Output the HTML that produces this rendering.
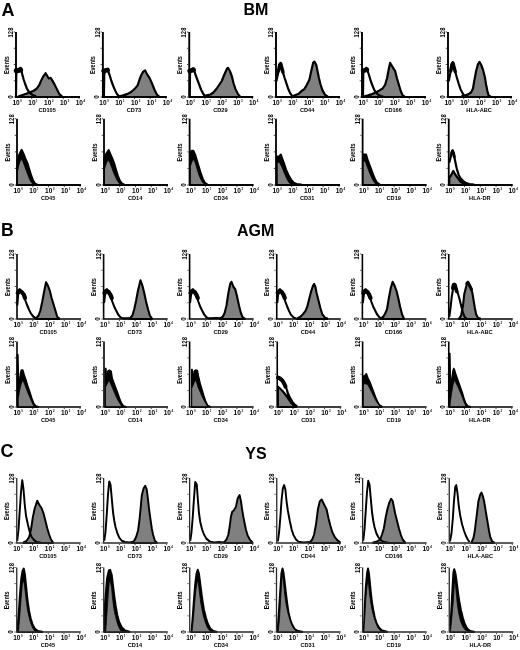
<!DOCTYPE html>
<html><head><meta charset="utf-8"><title>Figure</title>
<style>html,body{margin:0;padding:0;background:#fff;width:520px;height:650px;overflow:hidden}svg{display:block}</style>
</head><body>
<svg width="520" height="650" viewBox="0 0 520 650">
<rect width="520" height="650" fill="#fff"/>
<g>
<text x="1.4" y="16.1" font-size="18" font-family="Liberation Sans, sans-serif" font-weight="bold">A</text>
<text x="256" y="15.3" font-size="16" text-anchor="middle" font-family="Liberation Sans, sans-serif" font-weight="bold">BM</text>
<text x="0.9" y="235.7" font-size="17.6" font-family="Liberation Sans, sans-serif" font-weight="bold">B</text>
<text x="255.6" y="235.6" font-size="16" text-anchor="middle" font-family="Liberation Sans, sans-serif" font-weight="bold">AGM</text>
<text x="0.5" y="457.4" font-size="18" font-family="Liberation Sans, sans-serif" font-weight="bold">C</text>
<text x="256" y="459" font-size="16" text-anchor="middle" font-family="Liberation Sans, sans-serif" font-weight="bold">YS</text>
<g><polygon points="18.75,97 18.75,96.38 22.5,95 26.25,93.75 30,92.25 33.75,90.75 36.88,88.5 39.38,84.75 41.25,80.38 43.12,76.62 45.62,73.25 47.25,76 48.75,78.5 50.62,77.88 52.25,80.38 54.38,84.12 56.88,89.12 59.38,94.12 61.88,96.38 61.88,97" fill="#808080" stroke="#000" stroke-width="2.2" stroke-linejoin="round"/><polyline points="16,96 16.25,74.75 16.88,70.38 18.12,69.75 19.38,69.12 20.62,67.88 21.5,71 22.5,75.38 23.75,79.75 25,83.5 26.88,88.5 28.75,91.62 30.62,93.5 33.12,95.38 36.25,96.38" fill="none" stroke="#000" stroke-width="2.2" stroke-linejoin="round"/><polyline points="16.25,70.75 18.12,70.5 20.62,69.75" fill="none" stroke="#000" stroke-width="5.0" stroke-linejoin="round" stroke-linecap="round"/><path d="M16 32V97H80" fill="none" stroke="#000" stroke-width="1.9"/><path d="M15 32h-1.3 M15 48.25h-1.3 M15 64.5h-1.3 M15 80.75h-1.3 M15 97h-1.3 M31.75 98v1.2 M47.5 98v1.2 M63.25 98v1.2 M79 98v1.2" stroke="#000" stroke-width="0.7" fill="none"/><text transform="translate(13 32.5) rotate(-90)" font-size="6.3" font-weight="bold" text-anchor="middle" textLength="9.8" lengthAdjust="spacingAndGlyphs" font-family="Liberation Sans, sans-serif">128</text><text transform="translate(12.6 97) rotate(-90)" font-size="6.3" font-weight="bold" text-anchor="middle" font-family="Liberation Sans, sans-serif">0</text><text transform="translate(8.6 65.1) rotate(-90)" font-size="6.6" font-weight="bold" text-anchor="middle" textLength="18" lengthAdjust="spacingAndGlyphs" font-family="Liberation Sans, sans-serif">Events</text><text x="16.1" y="104.6" font-size="6.5" font-weight="bold" text-anchor="middle" font-family="Liberation Sans, sans-serif">10</text><text x="20.3" y="101.8" font-size="2.8" font-weight="bold" font-family="Liberation Sans, sans-serif">0</text><text x="31.92" y="104.6" font-size="6.5" font-weight="bold" text-anchor="middle" font-family="Liberation Sans, sans-serif">10</text><text x="36.12" y="101.8" font-size="2.8" font-weight="bold" font-family="Liberation Sans, sans-serif">1</text><text x="47.74" y="104.6" font-size="6.5" font-weight="bold" text-anchor="middle" font-family="Liberation Sans, sans-serif">10</text><text x="51.94" y="101.8" font-size="2.8" font-weight="bold" font-family="Liberation Sans, sans-serif">2</text><text x="63.56" y="104.6" font-size="6.5" font-weight="bold" text-anchor="middle" font-family="Liberation Sans, sans-serif">10</text><text x="67.76" y="101.8" font-size="2.8" font-weight="bold" font-family="Liberation Sans, sans-serif">3</text><text x="79.38" y="104.6" font-size="6.5" font-weight="bold" text-anchor="middle" font-family="Liberation Sans, sans-serif">10</text><text x="83.58" y="101.8" font-size="2.8" font-weight="bold" font-family="Liberation Sans, sans-serif">4</text><text x="47.1" y="111.6" font-size="5.6" font-weight="bold" text-anchor="middle" font-family="Liberation Sans, sans-serif">CD105</text></g>
<g><polygon points="119.5,97 119.5,96.38 123.25,95.38 127,94.12 130.75,92.25 134.5,89.12 137.62,85.38 139.5,79.75 141.38,74.75 143.25,71.62 145.12,70.38 147,74.12 149.5,77.88 152,83.5 154.5,89.75 157,94.75 158.88,96.38 158.88,97" fill="#808080" stroke="#000" stroke-width="2.2" stroke-linejoin="round"/><polyline points="103.88,96 104.25,74.75 105.12,70.38 107,69.12 108,71 109.5,74.75 111.38,81 113.25,86 115.12,90.38 117,94.12 118.88,96 120.75,96.62" fill="none" stroke="#000" stroke-width="2.2" stroke-linejoin="round"/><polyline points="103.75,71 105.5,70.5 107.5,70" fill="none" stroke="#000" stroke-width="4.8" stroke-linejoin="round" stroke-linecap="round"/><path d="M102.88 32V97H166.88" fill="none" stroke="#000" stroke-width="1.9"/><path d="M101.88 32h-1.3 M101.88 48.25h-1.3 M101.88 64.5h-1.3 M101.88 80.75h-1.3 M101.88 97h-1.3 M118.62 98v1.2 M134.38 98v1.2 M150.12 98v1.2 M165.88 98v1.2" stroke="#000" stroke-width="0.7" fill="none"/><text transform="translate(99.88 32.5) rotate(-90)" font-size="6.3" font-weight="bold" text-anchor="middle" textLength="9.8" lengthAdjust="spacingAndGlyphs" font-family="Liberation Sans, sans-serif">128</text><text transform="translate(99.47 97) rotate(-90)" font-size="6.3" font-weight="bold" text-anchor="middle" font-family="Liberation Sans, sans-serif">0</text><text transform="translate(95.47 65.1) rotate(-90)" font-size="6.6" font-weight="bold" text-anchor="middle" textLength="18" lengthAdjust="spacingAndGlyphs" font-family="Liberation Sans, sans-serif">Events</text><text x="102.97" y="104.6" font-size="6.5" font-weight="bold" text-anchor="middle" font-family="Liberation Sans, sans-serif">10</text><text x="107.17" y="101.8" font-size="2.8" font-weight="bold" font-family="Liberation Sans, sans-serif">0</text><text x="118.79" y="104.6" font-size="6.5" font-weight="bold" text-anchor="middle" font-family="Liberation Sans, sans-serif">10</text><text x="122.99" y="101.8" font-size="2.8" font-weight="bold" font-family="Liberation Sans, sans-serif">1</text><text x="134.61" y="104.6" font-size="6.5" font-weight="bold" text-anchor="middle" font-family="Liberation Sans, sans-serif">10</text><text x="138.81" y="101.8" font-size="2.8" font-weight="bold" font-family="Liberation Sans, sans-serif">2</text><text x="150.44" y="104.6" font-size="6.5" font-weight="bold" text-anchor="middle" font-family="Liberation Sans, sans-serif">10</text><text x="154.63" y="101.8" font-size="2.8" font-weight="bold" font-family="Liberation Sans, sans-serif">3</text><text x="166.25" y="104.6" font-size="6.5" font-weight="bold" text-anchor="middle" font-family="Liberation Sans, sans-serif">10</text><text x="170.45" y="101.8" font-size="2.8" font-weight="bold" font-family="Liberation Sans, sans-serif">4</text><text x="133.97" y="111.6" font-size="5.6" font-weight="bold" text-anchor="middle" font-family="Liberation Sans, sans-serif">CD73</text></g>
<g><polygon points="204.25,97 204.25,96.38 206.75,95.38 210.5,94.5 213.62,92.25 216.75,88.5 219.25,84.75 221.75,81 224.25,74.75 226.75,69.12 228,67.88 229.88,71 231.75,76 233.62,83.5 235.5,89.12 238,94.12 239.88,96.38 239.88,97" fill="#808080" stroke="#000" stroke-width="2.2" stroke-linejoin="round"/><polyline points="189.75,96 190,73.5 191.12,69.75 193,68.5 194,69.75 195.5,74.75 197.38,79.75 199.25,84.75 201.12,89.75 203,93.5 204.88,96" fill="none" stroke="#000" stroke-width="2.2" stroke-linejoin="round"/><polyline points="189.75,71 191.5,70.5 193.5,69.75" fill="none" stroke="#000" stroke-width="4.8" stroke-linejoin="round" stroke-linecap="round"/><path d="M189.25 32V97H253.25" fill="none" stroke="#000" stroke-width="1.9"/><path d="M188.25 32h-1.3 M188.25 48.25h-1.3 M188.25 64.5h-1.3 M188.25 80.75h-1.3 M188.25 97h-1.3 M205 98v1.2 M220.75 98v1.2 M236.5 98v1.2 M252.25 98v1.2" stroke="#000" stroke-width="0.7" fill="none"/><text transform="translate(186.25 32.5) rotate(-90)" font-size="6.3" font-weight="bold" text-anchor="middle" textLength="9.8" lengthAdjust="spacingAndGlyphs" font-family="Liberation Sans, sans-serif">128</text><text transform="translate(185.85 97) rotate(-90)" font-size="6.3" font-weight="bold" text-anchor="middle" font-family="Liberation Sans, sans-serif">0</text><text transform="translate(181.85 65.1) rotate(-90)" font-size="6.6" font-weight="bold" text-anchor="middle" textLength="18" lengthAdjust="spacingAndGlyphs" font-family="Liberation Sans, sans-serif">Events</text><text x="189.35" y="104.6" font-size="6.5" font-weight="bold" text-anchor="middle" font-family="Liberation Sans, sans-serif">10</text><text x="193.55" y="101.8" font-size="2.8" font-weight="bold" font-family="Liberation Sans, sans-serif">0</text><text x="205.17" y="104.6" font-size="6.5" font-weight="bold" text-anchor="middle" font-family="Liberation Sans, sans-serif">10</text><text x="209.37" y="101.8" font-size="2.8" font-weight="bold" font-family="Liberation Sans, sans-serif">1</text><text x="220.99" y="104.6" font-size="6.5" font-weight="bold" text-anchor="middle" font-family="Liberation Sans, sans-serif">10</text><text x="225.19" y="101.8" font-size="2.8" font-weight="bold" font-family="Liberation Sans, sans-serif">2</text><text x="236.81" y="104.6" font-size="6.5" font-weight="bold" text-anchor="middle" font-family="Liberation Sans, sans-serif">10</text><text x="241.01" y="101.8" font-size="2.8" font-weight="bold" font-family="Liberation Sans, sans-serif">3</text><text x="252.63" y="104.6" font-size="6.5" font-weight="bold" text-anchor="middle" font-family="Liberation Sans, sans-serif">10</text><text x="256.83" y="101.8" font-size="2.8" font-weight="bold" font-family="Liberation Sans, sans-serif">4</text><text x="220.35" y="111.6" font-size="5.6" font-weight="bold" text-anchor="middle" font-family="Liberation Sans, sans-serif">CD29</text></g>
<g><polygon points="292.5,97 292.5,96.38 295.62,95 298.75,93.75 301.25,91.25 304.38,89.12 306.88,84.75 309.38,79.75 311.25,71 313.12,62.88 314.38,61.62 316.25,64.75 317.5,71 318.75,77.25 320.62,84.75 322.5,90.38 325,94.75 327.5,96.38 327.5,97" fill="#808080" stroke="#000" stroke-width="2.2" stroke-linejoin="round"/><polyline points="276.25,81.38 277.5,76 278.75,69.75 279.75,64.75 280.5,62.88 281.5,66.62 282.75,71.62 284.38,77.25 286.25,82.88 288.12,88.5 290,92.88 291.88,95.62 293.75,96.62" fill="none" stroke="#000" stroke-width="2.2" stroke-linejoin="round"/><polyline points="278.5,71 279.75,64.5 280.75,63.75 282,68.5 283,72.25" fill="none" stroke="#000" stroke-width="3.4" stroke-linejoin="round" stroke-linecap="round"/><path d="M276 32V97H340" fill="none" stroke="#000" stroke-width="1.9"/><path d="M275 32h-1.3 M275 48.25h-1.3 M275 64.5h-1.3 M275 80.75h-1.3 M275 97h-1.3 M291.75 98v1.2 M307.5 98v1.2 M323.25 98v1.2 M339 98v1.2" stroke="#000" stroke-width="0.7" fill="none"/><text transform="translate(273 32.5) rotate(-90)" font-size="6.3" font-weight="bold" text-anchor="middle" textLength="9.8" lengthAdjust="spacingAndGlyphs" font-family="Liberation Sans, sans-serif">128</text><text transform="translate(272.6 97) rotate(-90)" font-size="6.3" font-weight="bold" text-anchor="middle" font-family="Liberation Sans, sans-serif">0</text><text transform="translate(268.6 65.1) rotate(-90)" font-size="6.6" font-weight="bold" text-anchor="middle" textLength="18" lengthAdjust="spacingAndGlyphs" font-family="Liberation Sans, sans-serif">Events</text><text x="276.1" y="104.6" font-size="6.5" font-weight="bold" text-anchor="middle" font-family="Liberation Sans, sans-serif">10</text><text x="280.3" y="101.8" font-size="2.8" font-weight="bold" font-family="Liberation Sans, sans-serif">0</text><text x="291.92" y="104.6" font-size="6.5" font-weight="bold" text-anchor="middle" font-family="Liberation Sans, sans-serif">10</text><text x="296.12" y="101.8" font-size="2.8" font-weight="bold" font-family="Liberation Sans, sans-serif">1</text><text x="307.74" y="104.6" font-size="6.5" font-weight="bold" text-anchor="middle" font-family="Liberation Sans, sans-serif">10</text><text x="311.94" y="101.8" font-size="2.8" font-weight="bold" font-family="Liberation Sans, sans-serif">2</text><text x="323.56" y="104.6" font-size="6.5" font-weight="bold" text-anchor="middle" font-family="Liberation Sans, sans-serif">10</text><text x="327.76" y="101.8" font-size="2.8" font-weight="bold" font-family="Liberation Sans, sans-serif">3</text><text x="339.38" y="104.6" font-size="6.5" font-weight="bold" text-anchor="middle" font-family="Liberation Sans, sans-serif">10</text><text x="343.58" y="101.8" font-size="2.8" font-weight="bold" font-family="Liberation Sans, sans-serif">4</text><text x="307.1" y="111.6" font-size="5.6" font-weight="bold" text-anchor="middle" font-family="Liberation Sans, sans-serif">CD44</text></g>
<g><polygon points="364.5,97 364.5,96.38 368.25,95.38 372,94.12 375.75,92.5 379.5,90.38 382.62,88.5 385.12,84.75 387,78.5 388.88,68.5 390.12,62.88 392,66 393.88,69.12 395.12,71 397,78.5 398.88,84.75 400.75,91 402.62,95.38 404.5,96.38 404.5,97" fill="#808080" stroke="#000" stroke-width="2.2" stroke-linejoin="round"/><polyline points="363,96 363.25,73.5 364.5,69.75 366.38,67.88 367.25,69.75 368.88,74.75 370.75,81 372.62,86 374.5,90.38 376.38,92.88 378.25,94.75 380.75,96 383.25,96.62" fill="none" stroke="#000" stroke-width="2.2" stroke-linejoin="round"/><polyline points="363.25,70.75 365,70.25 366.75,69.75" fill="none" stroke="#000" stroke-width="4.8" stroke-linejoin="round" stroke-linecap="round"/><path d="M362 32V97H426" fill="none" stroke="#000" stroke-width="1.9"/><path d="M361 32h-1.3 M361 48.25h-1.3 M361 64.5h-1.3 M361 80.75h-1.3 M361 97h-1.3 M377.75 98v1.2 M393.5 98v1.2 M409.25 98v1.2 M425 98v1.2" stroke="#000" stroke-width="0.7" fill="none"/><text transform="translate(359 32.5) rotate(-90)" font-size="6.3" font-weight="bold" text-anchor="middle" textLength="9.8" lengthAdjust="spacingAndGlyphs" font-family="Liberation Sans, sans-serif">128</text><text transform="translate(358.6 97) rotate(-90)" font-size="6.3" font-weight="bold" text-anchor="middle" font-family="Liberation Sans, sans-serif">0</text><text transform="translate(354.6 65.1) rotate(-90)" font-size="6.6" font-weight="bold" text-anchor="middle" textLength="18" lengthAdjust="spacingAndGlyphs" font-family="Liberation Sans, sans-serif">Events</text><text x="362.1" y="104.6" font-size="6.5" font-weight="bold" text-anchor="middle" font-family="Liberation Sans, sans-serif">10</text><text x="366.3" y="101.8" font-size="2.8" font-weight="bold" font-family="Liberation Sans, sans-serif">0</text><text x="377.92" y="104.6" font-size="6.5" font-weight="bold" text-anchor="middle" font-family="Liberation Sans, sans-serif">10</text><text x="382.12" y="101.8" font-size="2.8" font-weight="bold" font-family="Liberation Sans, sans-serif">1</text><text x="393.74" y="104.6" font-size="6.5" font-weight="bold" text-anchor="middle" font-family="Liberation Sans, sans-serif">10</text><text x="397.94" y="101.8" font-size="2.8" font-weight="bold" font-family="Liberation Sans, sans-serif">2</text><text x="409.56" y="104.6" font-size="6.5" font-weight="bold" text-anchor="middle" font-family="Liberation Sans, sans-serif">10</text><text x="413.76" y="101.8" font-size="2.8" font-weight="bold" font-family="Liberation Sans, sans-serif">3</text><text x="425.38" y="104.6" font-size="6.5" font-weight="bold" text-anchor="middle" font-family="Liberation Sans, sans-serif">10</text><text x="429.58" y="101.8" font-size="2.8" font-weight="bold" font-family="Liberation Sans, sans-serif">4</text><text x="393.1" y="111.6" font-size="5.6" font-weight="bold" text-anchor="middle" font-family="Liberation Sans, sans-serif">CD166</text></g>
<g><polygon points="461.75,97 461.75,96.38 465.5,95.38 468.62,94.12 471.12,92.25 473,88.5 474.25,81 476.12,71 478,64.12 479.5,62 481.12,64.75 483,69.75 484.88,77.25 486.12,84.75 487.38,91 488.62,95.38 490.5,96.38 490.5,97" fill="#808080" stroke="#000" stroke-width="2.2" stroke-linejoin="round"/><polyline points="448.75,81.38 449.88,75.38 451.12,68.5 452,64.12 452.75,62.25 453.75,66.25 455,71 456.75,77.25 458.62,83.5 460.5,89.12 462.38,92.88 464,95.38 466.12,96.62" fill="none" stroke="#000" stroke-width="2.2" stroke-linejoin="round"/><polyline points="450.75,71 452,64.12 453,63.12 454.25,67.88 455.25,71.62" fill="none" stroke="#000" stroke-width="3.4" stroke-linejoin="round" stroke-linecap="round"/><path d="M448 32V97H512" fill="none" stroke="#000" stroke-width="1.9"/><path d="M447 32h-1.3 M447 48.25h-1.3 M447 64.5h-1.3 M447 80.75h-1.3 M447 97h-1.3 M463.75 98v1.2 M479.5 98v1.2 M495.25 98v1.2 M511 98v1.2" stroke="#000" stroke-width="0.7" fill="none"/><text transform="translate(445 32.5) rotate(-90)" font-size="6.3" font-weight="bold" text-anchor="middle" textLength="9.8" lengthAdjust="spacingAndGlyphs" font-family="Liberation Sans, sans-serif">128</text><text transform="translate(444.6 97) rotate(-90)" font-size="6.3" font-weight="bold" text-anchor="middle" font-family="Liberation Sans, sans-serif">0</text><text transform="translate(440.6 65.1) rotate(-90)" font-size="6.6" font-weight="bold" text-anchor="middle" textLength="18" lengthAdjust="spacingAndGlyphs" font-family="Liberation Sans, sans-serif">Events</text><text x="448.1" y="104.6" font-size="6.5" font-weight="bold" text-anchor="middle" font-family="Liberation Sans, sans-serif">10</text><text x="452.3" y="101.8" font-size="2.8" font-weight="bold" font-family="Liberation Sans, sans-serif">0</text><text x="463.92" y="104.6" font-size="6.5" font-weight="bold" text-anchor="middle" font-family="Liberation Sans, sans-serif">10</text><text x="468.12" y="101.8" font-size="2.8" font-weight="bold" font-family="Liberation Sans, sans-serif">1</text><text x="479.74" y="104.6" font-size="6.5" font-weight="bold" text-anchor="middle" font-family="Liberation Sans, sans-serif">10</text><text x="483.94" y="101.8" font-size="2.8" font-weight="bold" font-family="Liberation Sans, sans-serif">2</text><text x="495.56" y="104.6" font-size="6.5" font-weight="bold" text-anchor="middle" font-family="Liberation Sans, sans-serif">10</text><text x="499.76" y="101.8" font-size="2.8" font-weight="bold" font-family="Liberation Sans, sans-serif">3</text><text x="511.38" y="104.6" font-size="6.5" font-weight="bold" text-anchor="middle" font-family="Liberation Sans, sans-serif">10</text><text x="515.58" y="101.8" font-size="2.8" font-weight="bold" font-family="Liberation Sans, sans-serif">4</text><text x="479.1" y="111.6" font-size="5.6" font-weight="bold" text-anchor="middle" font-family="Liberation Sans, sans-serif">HLA-ABC</text></g>
<g><polygon points="17.5,185 17.5,161.5 19.12,155.25 21.62,150 23.5,154 25.38,159 27.25,162.75 29.12,169 31,175.25 32.88,180.25 34.75,183.38 37.25,184.62 37.25,185" fill="#000" stroke="#000" stroke-width="2.2" stroke-linejoin="round"/><polygon points="17.5,185 17.5,171.5 19.12,164 21,159 22.88,161.5 24.75,166.5 26.62,171.5 28.5,176.5 30.38,180.88 32.25,183.38 34.75,184.38 34.75,185" fill="#808080" stroke="#000" stroke-width="0.8" stroke-linejoin="round"/><path d="M17 118.75V185H81" fill="none" stroke="#000" stroke-width="1.8"/><path d="M16 118.75h-1.3 M16 135.31h-1.3 M16 151.88h-1.3 M16 168.44h-1.3 M16 185h-1.3 M32.75 186v1.2 M48.5 186v1.2 M64.25 186v1.2 M80 186v1.2" stroke="#000" stroke-width="0.7" fill="none"/><text transform="translate(14 119.25) rotate(-90)" font-size="6.3" font-weight="bold" text-anchor="middle" textLength="9.8" lengthAdjust="spacingAndGlyphs" font-family="Liberation Sans, sans-serif">128</text><text transform="translate(13.6 185) rotate(-90)" font-size="6.3" font-weight="bold" text-anchor="middle" font-family="Liberation Sans, sans-serif">0</text><text transform="translate(9.6 152.47) rotate(-90)" font-size="6.6" font-weight="bold" text-anchor="middle" textLength="18" lengthAdjust="spacingAndGlyphs" font-family="Liberation Sans, sans-serif">Events</text><text x="17.1" y="192.6" font-size="6.5" font-weight="bold" text-anchor="middle" font-family="Liberation Sans, sans-serif">10</text><text x="21.3" y="189.8" font-size="2.8" font-weight="bold" font-family="Liberation Sans, sans-serif">0</text><text x="32.92" y="192.6" font-size="6.5" font-weight="bold" text-anchor="middle" font-family="Liberation Sans, sans-serif">10</text><text x="37.12" y="189.8" font-size="2.8" font-weight="bold" font-family="Liberation Sans, sans-serif">1</text><text x="48.74" y="192.6" font-size="6.5" font-weight="bold" text-anchor="middle" font-family="Liberation Sans, sans-serif">10</text><text x="52.94" y="189.8" font-size="2.8" font-weight="bold" font-family="Liberation Sans, sans-serif">2</text><text x="64.56" y="192.6" font-size="6.5" font-weight="bold" text-anchor="middle" font-family="Liberation Sans, sans-serif">10</text><text x="68.76" y="189.8" font-size="2.8" font-weight="bold" font-family="Liberation Sans, sans-serif">3</text><text x="80.38" y="192.6" font-size="6.5" font-weight="bold" text-anchor="middle" font-family="Liberation Sans, sans-serif">10</text><text x="84.58" y="189.8" font-size="2.8" font-weight="bold" font-family="Liberation Sans, sans-serif">4</text><text x="48.1" y="199.6" font-size="5.6" font-weight="bold" text-anchor="middle" font-family="Liberation Sans, sans-serif">CD45</text></g>
<g><polygon points="104.5,185 104.5,159 106.12,154 108.62,150.25 110.5,154.62 112.38,159 114.25,164 116.12,170.25 118,176.5 119.88,180.88 121.75,183.38 124.25,184.62 124.25,185" fill="#000" stroke="#000" stroke-width="2.2" stroke-linejoin="round"/><polygon points="104.5,185 104.5,169 106.12,164 108,159.62 109.88,162.75 111.75,167.75 113.62,172.75 115.5,177.12 117.38,180.88 119.25,183.38 121.75,184.38 121.75,185" fill="#808080" stroke="#000" stroke-width="0.8" stroke-linejoin="round"/><path d="M104 118.75V185H168" fill="none" stroke="#000" stroke-width="1.8"/><path d="M103 118.75h-1.3 M103 135.31h-1.3 M103 151.88h-1.3 M103 168.44h-1.3 M103 185h-1.3 M119.75 186v1.2 M135.5 186v1.2 M151.25 186v1.2 M167 186v1.2" stroke="#000" stroke-width="0.7" fill="none"/><text transform="translate(101 119.25) rotate(-90)" font-size="6.3" font-weight="bold" text-anchor="middle" textLength="9.8" lengthAdjust="spacingAndGlyphs" font-family="Liberation Sans, sans-serif">128</text><text transform="translate(100.6 185) rotate(-90)" font-size="6.3" font-weight="bold" text-anchor="middle" font-family="Liberation Sans, sans-serif">0</text><text transform="translate(96.6 152.47) rotate(-90)" font-size="6.6" font-weight="bold" text-anchor="middle" textLength="18" lengthAdjust="spacingAndGlyphs" font-family="Liberation Sans, sans-serif">Events</text><text x="104.1" y="192.6" font-size="6.5" font-weight="bold" text-anchor="middle" font-family="Liberation Sans, sans-serif">10</text><text x="108.3" y="189.8" font-size="2.8" font-weight="bold" font-family="Liberation Sans, sans-serif">0</text><text x="119.92" y="192.6" font-size="6.5" font-weight="bold" text-anchor="middle" font-family="Liberation Sans, sans-serif">10</text><text x="124.12" y="189.8" font-size="2.8" font-weight="bold" font-family="Liberation Sans, sans-serif">1</text><text x="135.74" y="192.6" font-size="6.5" font-weight="bold" text-anchor="middle" font-family="Liberation Sans, sans-serif">10</text><text x="139.94" y="189.8" font-size="2.8" font-weight="bold" font-family="Liberation Sans, sans-serif">2</text><text x="151.56" y="192.6" font-size="6.5" font-weight="bold" text-anchor="middle" font-family="Liberation Sans, sans-serif">10</text><text x="155.76" y="189.8" font-size="2.8" font-weight="bold" font-family="Liberation Sans, sans-serif">3</text><text x="167.38" y="192.6" font-size="6.5" font-weight="bold" text-anchor="middle" font-family="Liberation Sans, sans-serif">10</text><text x="171.58" y="189.8" font-size="2.8" font-weight="bold" font-family="Liberation Sans, sans-serif">4</text><text x="135.1" y="199.6" font-size="5.6" font-weight="bold" text-anchor="middle" font-family="Liberation Sans, sans-serif">CD14</text></g>
<g><polygon points="190,185 190,152.75 191.5,150.88 193.38,150.88 195.25,155.25 197.12,161.5 199,167.75 200.88,174 202.75,179 204.62,182.75 207.12,184.38 207.12,185" fill="#000" stroke="#000" stroke-width="2.2" stroke-linejoin="round"/><polygon points="190.25,185 190.25,166.5 192.12,161.5 193.38,159 195.25,162.75 197.12,169 199,175.25 200.88,179.62 202.75,182.75 205.25,184.38 205.25,185" fill="#808080" stroke="#000" stroke-width="0.8" stroke-linejoin="round"/><path d="M189.62 118.75V185H253.62" fill="none" stroke="#000" stroke-width="1.8"/><path d="M188.62 118.75h-1.3 M188.62 135.31h-1.3 M188.62 151.88h-1.3 M188.62 168.44h-1.3 M188.62 185h-1.3 M205.38 186v1.2 M221.12 186v1.2 M236.88 186v1.2 M252.62 186v1.2" stroke="#000" stroke-width="0.7" fill="none"/><text transform="translate(186.62 119.25) rotate(-90)" font-size="6.3" font-weight="bold" text-anchor="middle" textLength="9.8" lengthAdjust="spacingAndGlyphs" font-family="Liberation Sans, sans-serif">128</text><text transform="translate(186.22 185) rotate(-90)" font-size="6.3" font-weight="bold" text-anchor="middle" font-family="Liberation Sans, sans-serif">0</text><text transform="translate(182.22 152.47) rotate(-90)" font-size="6.6" font-weight="bold" text-anchor="middle" textLength="18" lengthAdjust="spacingAndGlyphs" font-family="Liberation Sans, sans-serif">Events</text><text x="189.72" y="192.6" font-size="6.5" font-weight="bold" text-anchor="middle" font-family="Liberation Sans, sans-serif">10</text><text x="193.92" y="189.8" font-size="2.8" font-weight="bold" font-family="Liberation Sans, sans-serif">0</text><text x="205.54" y="192.6" font-size="6.5" font-weight="bold" text-anchor="middle" font-family="Liberation Sans, sans-serif">10</text><text x="209.74" y="189.8" font-size="2.8" font-weight="bold" font-family="Liberation Sans, sans-serif">1</text><text x="221.36" y="192.6" font-size="6.5" font-weight="bold" text-anchor="middle" font-family="Liberation Sans, sans-serif">10</text><text x="225.56" y="189.8" font-size="2.8" font-weight="bold" font-family="Liberation Sans, sans-serif">2</text><text x="237.19" y="192.6" font-size="6.5" font-weight="bold" text-anchor="middle" font-family="Liberation Sans, sans-serif">10</text><text x="241.38" y="189.8" font-size="2.8" font-weight="bold" font-family="Liberation Sans, sans-serif">3</text><text x="253" y="192.6" font-size="6.5" font-weight="bold" text-anchor="middle" font-family="Liberation Sans, sans-serif">10</text><text x="257.2" y="189.8" font-size="2.8" font-weight="bold" font-family="Liberation Sans, sans-serif">4</text><text x="220.72" y="199.6" font-size="5.6" font-weight="bold" text-anchor="middle" font-family="Liberation Sans, sans-serif">CD34</text></g>
<g><polygon points="277.25,185 277.25,156.5 279.12,157.12 280.75,154.62 282.25,159 284.12,164 286,169.62 288.5,175.25 291,179.62 293.5,182.75 296.62,184 301,184.62 301,185" fill="#000" stroke="#000" stroke-width="2.2" stroke-linejoin="round"/><polygon points="277.25,185 277.25,162.75 279.12,162.12 280.38,164 282.25,167.75 284.12,172.75 286,177.12 287.88,180.88 289.75,183.38 292.25,184.38 292.25,185" fill="#808080" stroke="#000" stroke-width="0.8" stroke-linejoin="round"/><path d="M276 118.75V185H340" fill="none" stroke="#000" stroke-width="1.8"/><path d="M275 118.75h-1.3 M275 135.31h-1.3 M275 151.88h-1.3 M275 168.44h-1.3 M275 185h-1.3 M291.75 186v1.2 M307.5 186v1.2 M323.25 186v1.2 M339 186v1.2" stroke="#000" stroke-width="0.7" fill="none"/><text transform="translate(273 119.25) rotate(-90)" font-size="6.3" font-weight="bold" text-anchor="middle" textLength="9.8" lengthAdjust="spacingAndGlyphs" font-family="Liberation Sans, sans-serif">128</text><text transform="translate(272.6 185) rotate(-90)" font-size="6.3" font-weight="bold" text-anchor="middle" font-family="Liberation Sans, sans-serif">0</text><text transform="translate(268.6 152.47) rotate(-90)" font-size="6.6" font-weight="bold" text-anchor="middle" textLength="18" lengthAdjust="spacingAndGlyphs" font-family="Liberation Sans, sans-serif">Events</text><text x="276.1" y="192.6" font-size="6.5" font-weight="bold" text-anchor="middle" font-family="Liberation Sans, sans-serif">10</text><text x="280.3" y="189.8" font-size="2.8" font-weight="bold" font-family="Liberation Sans, sans-serif">0</text><text x="291.92" y="192.6" font-size="6.5" font-weight="bold" text-anchor="middle" font-family="Liberation Sans, sans-serif">10</text><text x="296.12" y="189.8" font-size="2.8" font-weight="bold" font-family="Liberation Sans, sans-serif">1</text><text x="307.74" y="192.6" font-size="6.5" font-weight="bold" text-anchor="middle" font-family="Liberation Sans, sans-serif">10</text><text x="311.94" y="189.8" font-size="2.8" font-weight="bold" font-family="Liberation Sans, sans-serif">2</text><text x="323.56" y="192.6" font-size="6.5" font-weight="bold" text-anchor="middle" font-family="Liberation Sans, sans-serif">10</text><text x="327.76" y="189.8" font-size="2.8" font-weight="bold" font-family="Liberation Sans, sans-serif">3</text><text x="339.38" y="192.6" font-size="6.5" font-weight="bold" text-anchor="middle" font-family="Liberation Sans, sans-serif">10</text><text x="343.58" y="189.8" font-size="2.8" font-weight="bold" font-family="Liberation Sans, sans-serif">4</text><text x="307.1" y="199.6" font-size="5.6" font-weight="bold" text-anchor="middle" font-family="Liberation Sans, sans-serif">CD31</text></g>
<g><polygon points="363,185 363,154.62 364.5,154.62 366,154.62 367.62,160.25 369.5,165.25 371.38,170.25 373.25,175.25 375.12,179.62 377,182.75 379.5,184.38 379.5,185" fill="#000" stroke="#000" stroke-width="2.2" stroke-linejoin="round"/><polygon points="363,185 363,161.5 364.5,160.88 365.75,162.75 367.62,167.75 369.5,172.75 371.38,177.12 373.25,180.88 375.12,183.38 377,184.38 377,185" fill="#808080" stroke="#000" stroke-width="0.8" stroke-linejoin="round"/><path d="M362.62 118.75V185H426.62" fill="none" stroke="#000" stroke-width="1.8"/><path d="M361.62 118.75h-1.3 M361.62 135.31h-1.3 M361.62 151.88h-1.3 M361.62 168.44h-1.3 M361.62 185h-1.3 M378.38 186v1.2 M394.12 186v1.2 M409.88 186v1.2 M425.62 186v1.2" stroke="#000" stroke-width="0.7" fill="none"/><text transform="translate(359.62 119.25) rotate(-90)" font-size="6.3" font-weight="bold" text-anchor="middle" textLength="9.8" lengthAdjust="spacingAndGlyphs" font-family="Liberation Sans, sans-serif">128</text><text transform="translate(359.23 185) rotate(-90)" font-size="6.3" font-weight="bold" text-anchor="middle" font-family="Liberation Sans, sans-serif">0</text><text transform="translate(355.23 152.47) rotate(-90)" font-size="6.6" font-weight="bold" text-anchor="middle" textLength="18" lengthAdjust="spacingAndGlyphs" font-family="Liberation Sans, sans-serif">Events</text><text x="362.73" y="192.6" font-size="6.5" font-weight="bold" text-anchor="middle" font-family="Liberation Sans, sans-serif">10</text><text x="366.93" y="189.8" font-size="2.8" font-weight="bold" font-family="Liberation Sans, sans-serif">0</text><text x="378.55" y="192.6" font-size="6.5" font-weight="bold" text-anchor="middle" font-family="Liberation Sans, sans-serif">10</text><text x="382.75" y="189.8" font-size="2.8" font-weight="bold" font-family="Liberation Sans, sans-serif">1</text><text x="394.37" y="192.6" font-size="6.5" font-weight="bold" text-anchor="middle" font-family="Liberation Sans, sans-serif">10</text><text x="398.56" y="189.8" font-size="2.8" font-weight="bold" font-family="Liberation Sans, sans-serif">2</text><text x="410.19" y="192.6" font-size="6.5" font-weight="bold" text-anchor="middle" font-family="Liberation Sans, sans-serif">10</text><text x="414.38" y="189.8" font-size="2.8" font-weight="bold" font-family="Liberation Sans, sans-serif">3</text><text x="426" y="192.6" font-size="6.5" font-weight="bold" text-anchor="middle" font-family="Liberation Sans, sans-serif">10</text><text x="430.2" y="189.8" font-size="2.8" font-weight="bold" font-family="Liberation Sans, sans-serif">4</text><text x="393.73" y="199.6" font-size="5.6" font-weight="bold" text-anchor="middle" font-family="Liberation Sans, sans-serif">CD19</text></g>
<g><polygon points="449.25,185 449.25,177.75 451.12,175.25 453.25,170.88 454.88,174 456.75,176.5 458.62,179 460.5,181.5 463,183.38 465.5,184.38 465.5,185" fill="#808080" stroke="#000" stroke-width="2.2" stroke-linejoin="round"/><polyline points="449.25,162.75 450.5,157.75 451.75,152.12 452.62,150.25 453.5,152.75 454.5,157.75 455.75,164 457,169.62 458.62,174.62 460.5,178.38 463,180.88 465.5,182.75 469.25,184 474.25,184.62" fill="none" stroke="#000" stroke-width="2.2" stroke-linejoin="round"/><polyline points="451.75,153 452.62,151.25 453.5,153.38 454.25,156.75" fill="none" stroke="#000" stroke-width="3.0" stroke-linejoin="round" stroke-linecap="round"/><path d="M448.75 118.75V185H512.75" fill="none" stroke="#000" stroke-width="1.8"/><path d="M447.75 118.75h-1.3 M447.75 135.31h-1.3 M447.75 151.88h-1.3 M447.75 168.44h-1.3 M447.75 185h-1.3 M464.5 186v1.2 M480.25 186v1.2 M496 186v1.2 M511.75 186v1.2" stroke="#000" stroke-width="0.7" fill="none"/><text transform="translate(445.75 119.25) rotate(-90)" font-size="6.3" font-weight="bold" text-anchor="middle" textLength="9.8" lengthAdjust="spacingAndGlyphs" font-family="Liberation Sans, sans-serif">128</text><text transform="translate(445.35 185) rotate(-90)" font-size="6.3" font-weight="bold" text-anchor="middle" font-family="Liberation Sans, sans-serif">0</text><text transform="translate(441.35 152.47) rotate(-90)" font-size="6.6" font-weight="bold" text-anchor="middle" textLength="18" lengthAdjust="spacingAndGlyphs" font-family="Liberation Sans, sans-serif">Events</text><text x="448.85" y="192.6" font-size="6.5" font-weight="bold" text-anchor="middle" font-family="Liberation Sans, sans-serif">10</text><text x="453.05" y="189.8" font-size="2.8" font-weight="bold" font-family="Liberation Sans, sans-serif">0</text><text x="464.67" y="192.6" font-size="6.5" font-weight="bold" text-anchor="middle" font-family="Liberation Sans, sans-serif">10</text><text x="468.87" y="189.8" font-size="2.8" font-weight="bold" font-family="Liberation Sans, sans-serif">1</text><text x="480.49" y="192.6" font-size="6.5" font-weight="bold" text-anchor="middle" font-family="Liberation Sans, sans-serif">10</text><text x="484.69" y="189.8" font-size="2.8" font-weight="bold" font-family="Liberation Sans, sans-serif">2</text><text x="496.31" y="192.6" font-size="6.5" font-weight="bold" text-anchor="middle" font-family="Liberation Sans, sans-serif">10</text><text x="500.51" y="189.8" font-size="2.8" font-weight="bold" font-family="Liberation Sans, sans-serif">3</text><text x="512.13" y="192.6" font-size="6.5" font-weight="bold" text-anchor="middle" font-family="Liberation Sans, sans-serif">10</text><text x="516.33" y="189.8" font-size="2.8" font-weight="bold" font-family="Liberation Sans, sans-serif">4</text><text x="479.85" y="199.6" font-size="5.6" font-weight="bold" text-anchor="middle" font-family="Liberation Sans, sans-serif">HLA-DR</text></g>
<g><polygon points="36,319 36,318.38 38.5,315.5 40.38,310.5 42.25,301.75 44.12,291.75 46,282.38 47.88,285.5 49.75,290.5 51.62,298 53.5,304.25 55.38,310.5 57.25,316.75 59.12,318.38 59.12,319" fill="#808080" stroke="#000" stroke-width="2.1" stroke-linejoin="round"/><polyline points="17.25,305.5 18.25,293 19.75,289.25 21.62,291.12 23.5,294.25 25.38,300.5 27.25,305.5 29.12,309.88 31,313.62 33.5,316.75 36,318.38" fill="none" stroke="#000" stroke-width="2.1" stroke-linejoin="round"/><polyline points="17.75,293 19.5,290.75 21.62,292 23.75,294.5 25,298" fill="none" stroke="#000" stroke-width="4.2" stroke-linejoin="round" stroke-linecap="round"/><path d="M17 254V319H81" fill="none" stroke="#000" stroke-width="1.6"/><path d="M16 254h-1.3 M16 270.25h-1.3 M16 286.5h-1.3 M16 302.75h-1.3 M16 319h-1.3 M32.75 320v1.2 M48.5 320v1.2 M64.25 320v1.2 M80 320v1.2" stroke="#000" stroke-width="0.7" fill="none"/><text transform="translate(14 254.5) rotate(-90)" font-size="6.3" font-weight="bold" text-anchor="middle" textLength="9.8" lengthAdjust="spacingAndGlyphs" font-family="Liberation Sans, sans-serif">128</text><text transform="translate(13.6 319) rotate(-90)" font-size="6.3" font-weight="bold" text-anchor="middle" font-family="Liberation Sans, sans-serif">0</text><text transform="translate(9.6 287.1) rotate(-90)" font-size="6.6" font-weight="bold" text-anchor="middle" textLength="18" lengthAdjust="spacingAndGlyphs" font-family="Liberation Sans, sans-serif">Events</text><text x="17.1" y="326.6" font-size="6.5" font-weight="bold" text-anchor="middle" font-family="Liberation Sans, sans-serif">10</text><text x="21.3" y="323.8" font-size="2.8" font-weight="bold" font-family="Liberation Sans, sans-serif">0</text><text x="32.92" y="326.6" font-size="6.5" font-weight="bold" text-anchor="middle" font-family="Liberation Sans, sans-serif">10</text><text x="37.12" y="323.8" font-size="2.8" font-weight="bold" font-family="Liberation Sans, sans-serif">1</text><text x="48.74" y="326.6" font-size="6.5" font-weight="bold" text-anchor="middle" font-family="Liberation Sans, sans-serif">10</text><text x="52.94" y="323.8" font-size="2.8" font-weight="bold" font-family="Liberation Sans, sans-serif">2</text><text x="64.56" y="326.6" font-size="6.5" font-weight="bold" text-anchor="middle" font-family="Liberation Sans, sans-serif">10</text><text x="68.76" y="323.8" font-size="2.8" font-weight="bold" font-family="Liberation Sans, sans-serif">3</text><text x="80.38" y="326.6" font-size="6.5" font-weight="bold" text-anchor="middle" font-family="Liberation Sans, sans-serif">10</text><text x="84.58" y="323.8" font-size="2.8" font-weight="bold" font-family="Liberation Sans, sans-serif">4</text><text x="48.1" y="333.6" font-size="5.6" font-weight="bold" text-anchor="middle" font-family="Liberation Sans, sans-serif">CD105</text></g>
<g><polygon points="129.88,319 129.88,318.38 132.38,315.5 134.25,309.25 136.12,300.5 138,290.5 140.5,280.25 142.38,285.5 144.25,293 146.12,301.75 148,309.25 149.88,315.5 151.75,318.38 151.75,319" fill="#808080" stroke="#000" stroke-width="2.1" stroke-linejoin="round"/><polyline points="104,303 105.25,293 107,289.25 108.62,291.75 110.5,295.5 112.38,301.75 114.25,306.75 116.12,310.5 118,314.25 120.5,317.38 123,318.38 128,318.38 130.5,318" fill="none" stroke="#000" stroke-width="2.1" stroke-linejoin="round"/><polyline points="104.5,293 106.5,290.75 108.62,292 110.5,294.88 111.75,298" fill="none" stroke="#000" stroke-width="4.2" stroke-linejoin="round" stroke-linecap="round"/><path d="M103.62 254V319H167.62" fill="none" stroke="#000" stroke-width="1.6"/><path d="M102.62 254h-1.3 M102.62 270.25h-1.3 M102.62 286.5h-1.3 M102.62 302.75h-1.3 M102.62 319h-1.3 M119.38 320v1.2 M135.12 320v1.2 M150.88 320v1.2 M166.62 320v1.2" stroke="#000" stroke-width="0.7" fill="none"/><text transform="translate(100.62 254.5) rotate(-90)" font-size="6.3" font-weight="bold" text-anchor="middle" textLength="9.8" lengthAdjust="spacingAndGlyphs" font-family="Liberation Sans, sans-serif">128</text><text transform="translate(100.22 319) rotate(-90)" font-size="6.3" font-weight="bold" text-anchor="middle" font-family="Liberation Sans, sans-serif">0</text><text transform="translate(96.22 287.1) rotate(-90)" font-size="6.6" font-weight="bold" text-anchor="middle" textLength="18" lengthAdjust="spacingAndGlyphs" font-family="Liberation Sans, sans-serif">Events</text><text x="103.72" y="326.6" font-size="6.5" font-weight="bold" text-anchor="middle" font-family="Liberation Sans, sans-serif">10</text><text x="107.92" y="323.8" font-size="2.8" font-weight="bold" font-family="Liberation Sans, sans-serif">0</text><text x="119.54" y="326.6" font-size="6.5" font-weight="bold" text-anchor="middle" font-family="Liberation Sans, sans-serif">10</text><text x="123.74" y="323.8" font-size="2.8" font-weight="bold" font-family="Liberation Sans, sans-serif">1</text><text x="135.36" y="326.6" font-size="6.5" font-weight="bold" text-anchor="middle" font-family="Liberation Sans, sans-serif">10</text><text x="139.56" y="323.8" font-size="2.8" font-weight="bold" font-family="Liberation Sans, sans-serif">2</text><text x="151.19" y="326.6" font-size="6.5" font-weight="bold" text-anchor="middle" font-family="Liberation Sans, sans-serif">10</text><text x="155.38" y="323.8" font-size="2.8" font-weight="bold" font-family="Liberation Sans, sans-serif">3</text><text x="167" y="326.6" font-size="6.5" font-weight="bold" text-anchor="middle" font-family="Liberation Sans, sans-serif">10</text><text x="171.2" y="323.8" font-size="2.8" font-weight="bold" font-family="Liberation Sans, sans-serif">4</text><text x="134.72" y="333.6" font-size="5.6" font-weight="bold" text-anchor="middle" font-family="Liberation Sans, sans-serif">CD73</text></g>
<g><polygon points="220.25,319 220.25,318.38 222.75,316.75 224.62,313 226.5,305.5 228.38,293 230.25,283.62 231.5,281.75 233.38,286.75 235.25,289.25 237.12,296.75 239,305.5 240.88,313 242.75,317.38 244.62,318.38 244.62,319" fill="#808080" stroke="#000" stroke-width="2.1" stroke-linejoin="round"/><polyline points="190,303 191.25,293 193,289.25 194.62,291.75 196.5,295.5 198.38,301.75 200.25,306.75 202.12,310.5 204,314.25 206.5,317.38 209,318.38 216.5,318 220.25,318.38" fill="none" stroke="#000" stroke-width="2.1" stroke-linejoin="round"/><polyline points="190.5,293 192.5,290.75 194.62,292 196.5,294.88 197.75,298" fill="none" stroke="#000" stroke-width="4.2" stroke-linejoin="round" stroke-linecap="round"/><path d="M189.62 254V319H253.62" fill="none" stroke="#000" stroke-width="1.6"/><path d="M188.62 254h-1.3 M188.62 270.25h-1.3 M188.62 286.5h-1.3 M188.62 302.75h-1.3 M188.62 319h-1.3 M205.38 320v1.2 M221.12 320v1.2 M236.88 320v1.2 M252.62 320v1.2" stroke="#000" stroke-width="0.7" fill="none"/><text transform="translate(186.62 254.5) rotate(-90)" font-size="6.3" font-weight="bold" text-anchor="middle" textLength="9.8" lengthAdjust="spacingAndGlyphs" font-family="Liberation Sans, sans-serif">128</text><text transform="translate(186.22 319) rotate(-90)" font-size="6.3" font-weight="bold" text-anchor="middle" font-family="Liberation Sans, sans-serif">0</text><text transform="translate(182.22 287.1) rotate(-90)" font-size="6.6" font-weight="bold" text-anchor="middle" textLength="18" lengthAdjust="spacingAndGlyphs" font-family="Liberation Sans, sans-serif">Events</text><text x="189.72" y="326.6" font-size="6.5" font-weight="bold" text-anchor="middle" font-family="Liberation Sans, sans-serif">10</text><text x="193.92" y="323.8" font-size="2.8" font-weight="bold" font-family="Liberation Sans, sans-serif">0</text><text x="205.54" y="326.6" font-size="6.5" font-weight="bold" text-anchor="middle" font-family="Liberation Sans, sans-serif">10</text><text x="209.74" y="323.8" font-size="2.8" font-weight="bold" font-family="Liberation Sans, sans-serif">1</text><text x="221.36" y="326.6" font-size="6.5" font-weight="bold" text-anchor="middle" font-family="Liberation Sans, sans-serif">10</text><text x="225.56" y="323.8" font-size="2.8" font-weight="bold" font-family="Liberation Sans, sans-serif">2</text><text x="237.19" y="326.6" font-size="6.5" font-weight="bold" text-anchor="middle" font-family="Liberation Sans, sans-serif">10</text><text x="241.38" y="323.8" font-size="2.8" font-weight="bold" font-family="Liberation Sans, sans-serif">3</text><text x="253" y="326.6" font-size="6.5" font-weight="bold" text-anchor="middle" font-family="Liberation Sans, sans-serif">10</text><text x="257.2" y="323.8" font-size="2.8" font-weight="bold" font-family="Liberation Sans, sans-serif">4</text><text x="220.72" y="333.6" font-size="5.6" font-weight="bold" text-anchor="middle" font-family="Liberation Sans, sans-serif">CD29</text></g>
<g><polygon points="297.25,319 297.25,318.38 300.38,316.75 302.88,314.25 305.38,311.12 307.25,306.75 309.12,299.25 311,291.75 312.88,286.12 314.12,284 315.38,286.75 316.62,293 318.5,300.5 320.38,308 322.25,314.25 324.75,317.38 327.25,318.38 327.25,319" fill="#808080" stroke="#000" stroke-width="2.1" stroke-linejoin="round"/><polyline points="277.25,303 278.25,293 280,289.25 281.62,291.75 283.5,295.5 285.38,301.75 287.25,306.75 289.12,311.12 291,314.88 293.5,317.38 296,318.38" fill="none" stroke="#000" stroke-width="2.1" stroke-linejoin="round"/><polyline points="277.75,293 279.75,290.75 281.75,292 283.5,294.88 284.75,298" fill="none" stroke="#000" stroke-width="4.2" stroke-linejoin="round" stroke-linecap="round"/><path d="M276.75 254V319H340.75" fill="none" stroke="#000" stroke-width="1.6"/><path d="M275.75 254h-1.3 M275.75 270.25h-1.3 M275.75 286.5h-1.3 M275.75 302.75h-1.3 M275.75 319h-1.3 M292.5 320v1.2 M308.25 320v1.2 M324 320v1.2 M339.75 320v1.2" stroke="#000" stroke-width="0.7" fill="none"/><text transform="translate(273.75 254.5) rotate(-90)" font-size="6.3" font-weight="bold" text-anchor="middle" textLength="9.8" lengthAdjust="spacingAndGlyphs" font-family="Liberation Sans, sans-serif">128</text><text transform="translate(273.35 319) rotate(-90)" font-size="6.3" font-weight="bold" text-anchor="middle" font-family="Liberation Sans, sans-serif">0</text><text transform="translate(269.35 287.1) rotate(-90)" font-size="6.6" font-weight="bold" text-anchor="middle" textLength="18" lengthAdjust="spacingAndGlyphs" font-family="Liberation Sans, sans-serif">Events</text><text x="276.85" y="326.6" font-size="6.5" font-weight="bold" text-anchor="middle" font-family="Liberation Sans, sans-serif">10</text><text x="281.05" y="323.8" font-size="2.8" font-weight="bold" font-family="Liberation Sans, sans-serif">0</text><text x="292.67" y="326.6" font-size="6.5" font-weight="bold" text-anchor="middle" font-family="Liberation Sans, sans-serif">10</text><text x="296.87" y="323.8" font-size="2.8" font-weight="bold" font-family="Liberation Sans, sans-serif">1</text><text x="308.49" y="326.6" font-size="6.5" font-weight="bold" text-anchor="middle" font-family="Liberation Sans, sans-serif">10</text><text x="312.69" y="323.8" font-size="2.8" font-weight="bold" font-family="Liberation Sans, sans-serif">2</text><text x="324.31" y="326.6" font-size="6.5" font-weight="bold" text-anchor="middle" font-family="Liberation Sans, sans-serif">10</text><text x="328.51" y="323.8" font-size="2.8" font-weight="bold" font-family="Liberation Sans, sans-serif">3</text><text x="340.13" y="326.6" font-size="6.5" font-weight="bold" text-anchor="middle" font-family="Liberation Sans, sans-serif">10</text><text x="344.33" y="323.8" font-size="2.8" font-weight="bold" font-family="Liberation Sans, sans-serif">4</text><text x="307.85" y="333.6" font-size="5.6" font-weight="bold" text-anchor="middle" font-family="Liberation Sans, sans-serif">CD44</text></g>
<g><polygon points="380.75,319 380.75,318.38 383.25,316.75 385.12,313.62 387,309.25 388.88,298 390.75,288 392.62,281.75 394.5,285.5 396.38,290.5 398.25,298 400.12,306.75 402,314.25 403.88,318.38 403.88,319" fill="#808080" stroke="#000" stroke-width="2.1" stroke-linejoin="round"/><polyline points="362.75,303 363.88,294.25 365.75,289.25 367.62,291.75 369.5,295.5 371.38,301.75 373.25,306.75 375.12,310.5 377,314.25 379.5,317.38 382,318.38" fill="none" stroke="#000" stroke-width="2.1" stroke-linejoin="round"/><polyline points="363.25,293 365.25,290.75 367.5,292 369.25,294.88 370.5,298" fill="none" stroke="#000" stroke-width="4.2" stroke-linejoin="round" stroke-linecap="round"/><path d="M362.38 254V319H426.38" fill="none" stroke="#000" stroke-width="1.6"/><path d="M361.38 254h-1.3 M361.38 270.25h-1.3 M361.38 286.5h-1.3 M361.38 302.75h-1.3 M361.38 319h-1.3 M378.12 320v1.2 M393.88 320v1.2 M409.62 320v1.2 M425.38 320v1.2" stroke="#000" stroke-width="0.7" fill="none"/><text transform="translate(359.38 254.5) rotate(-90)" font-size="6.3" font-weight="bold" text-anchor="middle" textLength="9.8" lengthAdjust="spacingAndGlyphs" font-family="Liberation Sans, sans-serif">128</text><text transform="translate(358.98 319) rotate(-90)" font-size="6.3" font-weight="bold" text-anchor="middle" font-family="Liberation Sans, sans-serif">0</text><text transform="translate(354.98 287.1) rotate(-90)" font-size="6.6" font-weight="bold" text-anchor="middle" textLength="18" lengthAdjust="spacingAndGlyphs" font-family="Liberation Sans, sans-serif">Events</text><text x="362.48" y="326.6" font-size="6.5" font-weight="bold" text-anchor="middle" font-family="Liberation Sans, sans-serif">10</text><text x="366.68" y="323.8" font-size="2.8" font-weight="bold" font-family="Liberation Sans, sans-serif">0</text><text x="378.3" y="326.6" font-size="6.5" font-weight="bold" text-anchor="middle" font-family="Liberation Sans, sans-serif">10</text><text x="382.5" y="323.8" font-size="2.8" font-weight="bold" font-family="Liberation Sans, sans-serif">1</text><text x="394.12" y="326.6" font-size="6.5" font-weight="bold" text-anchor="middle" font-family="Liberation Sans, sans-serif">10</text><text x="398.31" y="323.8" font-size="2.8" font-weight="bold" font-family="Liberation Sans, sans-serif">2</text><text x="409.94" y="326.6" font-size="6.5" font-weight="bold" text-anchor="middle" font-family="Liberation Sans, sans-serif">10</text><text x="414.13" y="323.8" font-size="2.8" font-weight="bold" font-family="Liberation Sans, sans-serif">3</text><text x="425.75" y="326.6" font-size="6.5" font-weight="bold" text-anchor="middle" font-family="Liberation Sans, sans-serif">10</text><text x="429.95" y="323.8" font-size="2.8" font-weight="bold" font-family="Liberation Sans, sans-serif">4</text><text x="393.48" y="333.6" font-size="5.6" font-weight="bold" text-anchor="middle" font-family="Liberation Sans, sans-serif">CD166</text></g>
<g><polygon points="459.25,319 459.25,318.38 461.12,315.5 463,305.5 464.25,294.25 466.12,286.75 467.75,281.75 469.25,284.25 471.12,288 472.38,293 473.62,300.5 474.88,308 476.12,314.25 478,318 479.88,318.38 479.88,319" fill="#808080" stroke="#000" stroke-width="2.1" stroke-linejoin="round"/><polyline points="449.25,316.75 450.5,308 451.75,296.75 453,289.25 454.25,283.62 455.75,285.5 457.38,291.75 459.25,298 461.12,305.5 463,313 464.88,317.38 466.75,318.38" fill="none" stroke="#000" stroke-width="2.1" stroke-linejoin="round"/><polyline points="452.75,288.25 453.62,284.75 454.88,284.75 455.75,288.25 456.75,291.5" fill="none" stroke="#000" stroke-width="3.6" stroke-linejoin="round" stroke-linecap="round"/><polyline points="466.75,283.62 468,282.38 469.5,285.5 471.5,289.5" fill="none" stroke="#000" stroke-width="3.0" stroke-linejoin="round" stroke-linecap="round"/><path d="M448.75 254V319H512.75" fill="none" stroke="#000" stroke-width="1.6"/><path d="M447.75 254h-1.3 M447.75 270.25h-1.3 M447.75 286.5h-1.3 M447.75 302.75h-1.3 M447.75 319h-1.3 M464.5 320v1.2 M480.25 320v1.2 M496 320v1.2 M511.75 320v1.2" stroke="#000" stroke-width="0.7" fill="none"/><text transform="translate(445.75 254.5) rotate(-90)" font-size="6.3" font-weight="bold" text-anchor="middle" textLength="9.8" lengthAdjust="spacingAndGlyphs" font-family="Liberation Sans, sans-serif">128</text><text transform="translate(445.35 319) rotate(-90)" font-size="6.3" font-weight="bold" text-anchor="middle" font-family="Liberation Sans, sans-serif">0</text><text transform="translate(441.35 287.1) rotate(-90)" font-size="6.6" font-weight="bold" text-anchor="middle" textLength="18" lengthAdjust="spacingAndGlyphs" font-family="Liberation Sans, sans-serif">Events</text><text x="448.85" y="326.6" font-size="6.5" font-weight="bold" text-anchor="middle" font-family="Liberation Sans, sans-serif">10</text><text x="453.05" y="323.8" font-size="2.8" font-weight="bold" font-family="Liberation Sans, sans-serif">0</text><text x="464.67" y="326.6" font-size="6.5" font-weight="bold" text-anchor="middle" font-family="Liberation Sans, sans-serif">10</text><text x="468.87" y="323.8" font-size="2.8" font-weight="bold" font-family="Liberation Sans, sans-serif">1</text><text x="480.49" y="326.6" font-size="6.5" font-weight="bold" text-anchor="middle" font-family="Liberation Sans, sans-serif">10</text><text x="484.69" y="323.8" font-size="2.8" font-weight="bold" font-family="Liberation Sans, sans-serif">2</text><text x="496.31" y="326.6" font-size="6.5" font-weight="bold" text-anchor="middle" font-family="Liberation Sans, sans-serif">10</text><text x="500.51" y="323.8" font-size="2.8" font-weight="bold" font-family="Liberation Sans, sans-serif">3</text><text x="512.13" y="326.6" font-size="6.5" font-weight="bold" text-anchor="middle" font-family="Liberation Sans, sans-serif">10</text><text x="516.33" y="323.8" font-size="2.8" font-weight="bold" font-family="Liberation Sans, sans-serif">4</text><text x="479.85" y="333.6" font-size="5.6" font-weight="bold" text-anchor="middle" font-family="Liberation Sans, sans-serif">HLA-ABC</text></g>
<g><polygon points="17.25,407 17.25,406.62 17.25,354.75 18,354.75 18.75,389.75 19.5,381 20.38,373.5 21.25,370 22.88,370 24.25,374.75 26,379.75 27.88,386 30,392.25 32,398.5 33.88,403.5 36,406 38.5,406.62 38.5,407" fill="#000" stroke="#000" stroke-width="1.3" stroke-linejoin="round"/><polygon points="18.25,407 18.25,406.62 18.25,398.5 19.5,391 21,384.75 22.25,381 23,380.5 24,382.88 25.75,387.25 27.88,392.88 29.75,397.25 31.62,401.62 33.5,405.38 34.75,406.38 34.75,407" fill="#808080" stroke="#000" stroke-width="0.8" stroke-linejoin="round"/><path d="M17 341.5V407H81" fill="none" stroke="#000" stroke-width="1.6"/><path d="M16 341.5h-1.3 M16 357.88h-1.3 M16 374.25h-1.3 M16 390.62h-1.3 M16 407h-1.3 M32.75 408v1.2 M48.5 408v1.2 M64.25 408v1.2 M80 408v1.2" stroke="#000" stroke-width="0.7" fill="none"/><text transform="translate(14 342) rotate(-90)" font-size="6.3" font-weight="bold" text-anchor="middle" textLength="9.8" lengthAdjust="spacingAndGlyphs" font-family="Liberation Sans, sans-serif">128</text><text transform="translate(13.6 407) rotate(-90)" font-size="6.3" font-weight="bold" text-anchor="middle" font-family="Liberation Sans, sans-serif">0</text><text transform="translate(9.6 374.85) rotate(-90)" font-size="6.6" font-weight="bold" text-anchor="middle" textLength="18" lengthAdjust="spacingAndGlyphs" font-family="Liberation Sans, sans-serif">Events</text><text x="17.1" y="414.6" font-size="6.5" font-weight="bold" text-anchor="middle" font-family="Liberation Sans, sans-serif">10</text><text x="21.3" y="411.8" font-size="2.8" font-weight="bold" font-family="Liberation Sans, sans-serif">0</text><text x="32.92" y="414.6" font-size="6.5" font-weight="bold" text-anchor="middle" font-family="Liberation Sans, sans-serif">10</text><text x="37.12" y="411.8" font-size="2.8" font-weight="bold" font-family="Liberation Sans, sans-serif">1</text><text x="48.74" y="414.6" font-size="6.5" font-weight="bold" text-anchor="middle" font-family="Liberation Sans, sans-serif">10</text><text x="52.94" y="411.8" font-size="2.8" font-weight="bold" font-family="Liberation Sans, sans-serif">2</text><text x="64.56" y="414.6" font-size="6.5" font-weight="bold" text-anchor="middle" font-family="Liberation Sans, sans-serif">10</text><text x="68.76" y="411.8" font-size="2.8" font-weight="bold" font-family="Liberation Sans, sans-serif">3</text><text x="80.38" y="414.6" font-size="6.5" font-weight="bold" text-anchor="middle" font-family="Liberation Sans, sans-serif">10</text><text x="84.58" y="411.8" font-size="2.8" font-weight="bold" font-family="Liberation Sans, sans-serif">4</text><text x="48.1" y="421.6" font-size="5.6" font-weight="bold" text-anchor="middle" font-family="Liberation Sans, sans-serif">CD45</text></g>
<g><polygon points="105.25,407 105.25,406.62 105.25,368.5 106,368.5 106.75,384.75 107.75,371 109.25,370 111.25,371.25 112.38,378.5 114.25,383.5 116.12,388.5 118,393.5 119.88,399.12 121.75,403.5 123.62,406 126.12,406.62 126.12,407" fill="#000" stroke="#000" stroke-width="1.3" stroke-linejoin="round"/><polygon points="105.5,407 105.5,406.62 105.5,387.25 106.75,384.75 108.75,380.5 110.25,382.88 112,387 114.25,392.25 116.12,396.62 118,400.38 119.88,403.5 121.75,406.38 121.75,407" fill="#808080" stroke="#000" stroke-width="0.8" stroke-linejoin="round"/><path d="M104 341.5V407H168" fill="none" stroke="#000" stroke-width="1.6"/><path d="M103 341.5h-1.3 M103 357.88h-1.3 M103 374.25h-1.3 M103 390.62h-1.3 M103 407h-1.3 M119.75 408v1.2 M135.5 408v1.2 M151.25 408v1.2 M167 408v1.2" stroke="#000" stroke-width="0.7" fill="none"/><text transform="translate(101 342) rotate(-90)" font-size="6.3" font-weight="bold" text-anchor="middle" textLength="9.8" lengthAdjust="spacingAndGlyphs" font-family="Liberation Sans, sans-serif">128</text><text transform="translate(100.6 407) rotate(-90)" font-size="6.3" font-weight="bold" text-anchor="middle" font-family="Liberation Sans, sans-serif">0</text><text transform="translate(96.6 374.85) rotate(-90)" font-size="6.6" font-weight="bold" text-anchor="middle" textLength="18" lengthAdjust="spacingAndGlyphs" font-family="Liberation Sans, sans-serif">Events</text><text x="104.1" y="414.6" font-size="6.5" font-weight="bold" text-anchor="middle" font-family="Liberation Sans, sans-serif">10</text><text x="108.3" y="411.8" font-size="2.8" font-weight="bold" font-family="Liberation Sans, sans-serif">0</text><text x="119.92" y="414.6" font-size="6.5" font-weight="bold" text-anchor="middle" font-family="Liberation Sans, sans-serif">10</text><text x="124.12" y="411.8" font-size="2.8" font-weight="bold" font-family="Liberation Sans, sans-serif">1</text><text x="135.74" y="414.6" font-size="6.5" font-weight="bold" text-anchor="middle" font-family="Liberation Sans, sans-serif">10</text><text x="139.94" y="411.8" font-size="2.8" font-weight="bold" font-family="Liberation Sans, sans-serif">2</text><text x="151.56" y="414.6" font-size="6.5" font-weight="bold" text-anchor="middle" font-family="Liberation Sans, sans-serif">10</text><text x="155.76" y="411.8" font-size="2.8" font-weight="bold" font-family="Liberation Sans, sans-serif">3</text><text x="167.38" y="414.6" font-size="6.5" font-weight="bold" text-anchor="middle" font-family="Liberation Sans, sans-serif">10</text><text x="171.58" y="411.8" font-size="2.8" font-weight="bold" font-family="Liberation Sans, sans-serif">4</text><text x="135.1" y="421.6" font-size="5.6" font-weight="bold" text-anchor="middle" font-family="Liberation Sans, sans-serif">CD14</text></g>
<g><polygon points="191.62,407 191.62,406.62 191.62,369.5 192.25,369.5 193,384.75 194,371.25 195.5,370 197.5,370.5 198.75,377.25 200.25,383.5 202.12,389.75 204,396 205.88,401.62 207.75,405.38 210.25,406.62 210.25,407" fill="#000" stroke="#000" stroke-width="1.3" stroke-linejoin="round"/><polygon points="191.75,407 191.75,406.62 191.75,388.5 193,385.38 194.62,381.62 195.88,380.5 196.75,382.88 198,387 200.25,392.25 202.12,396.62 204,400.38 205.62,403.25 207.5,406.38 207.5,407" fill="#808080" stroke="#000" stroke-width="0.8" stroke-linejoin="round"/><path d="M189.62 341.5V407H253.62" fill="none" stroke="#000" stroke-width="1.6"/><path d="M188.62 341.5h-1.3 M188.62 357.88h-1.3 M188.62 374.25h-1.3 M188.62 390.62h-1.3 M188.62 407h-1.3 M205.38 408v1.2 M221.12 408v1.2 M236.88 408v1.2 M252.62 408v1.2" stroke="#000" stroke-width="0.7" fill="none"/><text transform="translate(186.62 342) rotate(-90)" font-size="6.3" font-weight="bold" text-anchor="middle" textLength="9.8" lengthAdjust="spacingAndGlyphs" font-family="Liberation Sans, sans-serif">128</text><text transform="translate(186.22 407) rotate(-90)" font-size="6.3" font-weight="bold" text-anchor="middle" font-family="Liberation Sans, sans-serif">0</text><text transform="translate(182.22 374.85) rotate(-90)" font-size="6.6" font-weight="bold" text-anchor="middle" textLength="18" lengthAdjust="spacingAndGlyphs" font-family="Liberation Sans, sans-serif">Events</text><text x="189.72" y="414.6" font-size="6.5" font-weight="bold" text-anchor="middle" font-family="Liberation Sans, sans-serif">10</text><text x="193.92" y="411.8" font-size="2.8" font-weight="bold" font-family="Liberation Sans, sans-serif">0</text><text x="205.54" y="414.6" font-size="6.5" font-weight="bold" text-anchor="middle" font-family="Liberation Sans, sans-serif">10</text><text x="209.74" y="411.8" font-size="2.8" font-weight="bold" font-family="Liberation Sans, sans-serif">1</text><text x="221.36" y="414.6" font-size="6.5" font-weight="bold" text-anchor="middle" font-family="Liberation Sans, sans-serif">10</text><text x="225.56" y="411.8" font-size="2.8" font-weight="bold" font-family="Liberation Sans, sans-serif">2</text><text x="237.19" y="414.6" font-size="6.5" font-weight="bold" text-anchor="middle" font-family="Liberation Sans, sans-serif">10</text><text x="241.38" y="411.8" font-size="2.8" font-weight="bold" font-family="Liberation Sans, sans-serif">3</text><text x="253" y="414.6" font-size="6.5" font-weight="bold" text-anchor="middle" font-family="Liberation Sans, sans-serif">10</text><text x="257.2" y="411.8" font-size="2.8" font-weight="bold" font-family="Liberation Sans, sans-serif">4</text><text x="220.72" y="421.6" font-size="5.6" font-weight="bold" text-anchor="middle" font-family="Liberation Sans, sans-serif">CD34</text></g>
<g><polygon points="277.88,407 277.88,386.62 279.75,388.25 282.25,390.75 284.75,393.75 287.25,397 289.12,400 291,402.75 293.5,405.12 296,406.38 296,407" fill="#808080" stroke="#000" stroke-width="2.1" stroke-linejoin="round"/><polygon points="286,387.25 287.88,392.88 289.75,397.25 292.25,401.62 294.75,404.75 297.25,406.38 297.25,407 296,407 296,406.38 293.5,405.12 291,402.75 289.12,400 287.25,397" fill="#000" stroke="none"/><polyline points="277.5,376.62 279.12,377 281.62,379.12 284.12,382.25 286,387.25 287.88,392.88 289.75,397.25 292.25,401.62 294.75,404.75 297.25,406.38" fill="none" stroke="#000" stroke-width="2.1" stroke-linejoin="round"/><polyline points="278,377.75 279.75,378.38 282.25,380.5 284.25,383.75 285.5,386.62" fill="none" stroke="#000" stroke-width="4.0" stroke-linejoin="round" stroke-linecap="round"/><path d="M277.25 341.5V407H341.25" fill="none" stroke="#000" stroke-width="1.6"/><path d="M276.25 341.5h-1.3 M276.25 357.88h-1.3 M276.25 374.25h-1.3 M276.25 390.62h-1.3 M276.25 407h-1.3 M293 408v1.2 M308.75 408v1.2 M324.5 408v1.2 M340.25 408v1.2" stroke="#000" stroke-width="0.7" fill="none"/><text transform="translate(274.25 342) rotate(-90)" font-size="6.3" font-weight="bold" text-anchor="middle" textLength="9.8" lengthAdjust="spacingAndGlyphs" font-family="Liberation Sans, sans-serif">128</text><text transform="translate(273.85 407) rotate(-90)" font-size="6.3" font-weight="bold" text-anchor="middle" font-family="Liberation Sans, sans-serif">0</text><text transform="translate(269.85 374.85) rotate(-90)" font-size="6.6" font-weight="bold" text-anchor="middle" textLength="18" lengthAdjust="spacingAndGlyphs" font-family="Liberation Sans, sans-serif">Events</text><text x="277.35" y="414.6" font-size="6.5" font-weight="bold" text-anchor="middle" font-family="Liberation Sans, sans-serif">10</text><text x="281.55" y="411.8" font-size="2.8" font-weight="bold" font-family="Liberation Sans, sans-serif">0</text><text x="293.17" y="414.6" font-size="6.5" font-weight="bold" text-anchor="middle" font-family="Liberation Sans, sans-serif">10</text><text x="297.37" y="411.8" font-size="2.8" font-weight="bold" font-family="Liberation Sans, sans-serif">1</text><text x="308.99" y="414.6" font-size="6.5" font-weight="bold" text-anchor="middle" font-family="Liberation Sans, sans-serif">10</text><text x="313.19" y="411.8" font-size="2.8" font-weight="bold" font-family="Liberation Sans, sans-serif">2</text><text x="324.81" y="414.6" font-size="6.5" font-weight="bold" text-anchor="middle" font-family="Liberation Sans, sans-serif">10</text><text x="329.01" y="411.8" font-size="2.8" font-weight="bold" font-family="Liberation Sans, sans-serif">3</text><text x="340.63" y="414.6" font-size="6.5" font-weight="bold" text-anchor="middle" font-family="Liberation Sans, sans-serif">10</text><text x="344.83" y="411.8" font-size="2.8" font-weight="bold" font-family="Liberation Sans, sans-serif">4</text><text x="308.35" y="421.6" font-size="5.6" font-weight="bold" text-anchor="middle" font-family="Liberation Sans, sans-serif">CD31</text></g>
<g><polygon points="363,407 363,376 364.5,376 366.38,373.5 368.25,378.5 370.12,382.25 372,387.25 373.88,392.25 375.75,397.25 377.62,401.62 379.5,404.75 382,406.38 382,407" fill="#000" stroke="#000" stroke-width="1.3" stroke-linejoin="round"/><polygon points="363.25,407 363.25,384.75 365.12,383.5 367.88,384.75 369.75,388.5 371.62,392.25 373.5,396 375.38,399.75 377.25,402.88 379.12,405.38 381,406.38 381,407" fill="#808080" stroke="#000" stroke-width="0.8" stroke-linejoin="round"/><path d="M362.62 341.5V407H426.62" fill="none" stroke="#000" stroke-width="1.6"/><path d="M361.62 341.5h-1.3 M361.62 357.88h-1.3 M361.62 374.25h-1.3 M361.62 390.62h-1.3 M361.62 407h-1.3 M378.38 408v1.2 M394.12 408v1.2 M409.88 408v1.2 M425.62 408v1.2" stroke="#000" stroke-width="0.7" fill="none"/><text transform="translate(359.62 342) rotate(-90)" font-size="6.3" font-weight="bold" text-anchor="middle" textLength="9.8" lengthAdjust="spacingAndGlyphs" font-family="Liberation Sans, sans-serif">128</text><text transform="translate(359.23 407) rotate(-90)" font-size="6.3" font-weight="bold" text-anchor="middle" font-family="Liberation Sans, sans-serif">0</text><text transform="translate(355.23 374.85) rotate(-90)" font-size="6.6" font-weight="bold" text-anchor="middle" textLength="18" lengthAdjust="spacingAndGlyphs" font-family="Liberation Sans, sans-serif">Events</text><text x="362.73" y="414.6" font-size="6.5" font-weight="bold" text-anchor="middle" font-family="Liberation Sans, sans-serif">10</text><text x="366.93" y="411.8" font-size="2.8" font-weight="bold" font-family="Liberation Sans, sans-serif">0</text><text x="378.55" y="414.6" font-size="6.5" font-weight="bold" text-anchor="middle" font-family="Liberation Sans, sans-serif">10</text><text x="382.75" y="411.8" font-size="2.8" font-weight="bold" font-family="Liberation Sans, sans-serif">1</text><text x="394.37" y="414.6" font-size="6.5" font-weight="bold" text-anchor="middle" font-family="Liberation Sans, sans-serif">10</text><text x="398.56" y="411.8" font-size="2.8" font-weight="bold" font-family="Liberation Sans, sans-serif">2</text><text x="410.19" y="414.6" font-size="6.5" font-weight="bold" text-anchor="middle" font-family="Liberation Sans, sans-serif">10</text><text x="414.38" y="411.8" font-size="2.8" font-weight="bold" font-family="Liberation Sans, sans-serif">3</text><text x="426" y="414.6" font-size="6.5" font-weight="bold" text-anchor="middle" font-family="Liberation Sans, sans-serif">10</text><text x="430.2" y="411.8" font-size="2.8" font-weight="bold" font-family="Liberation Sans, sans-serif">4</text><text x="393.73" y="421.6" font-size="5.6" font-weight="bold" text-anchor="middle" font-family="Liberation Sans, sans-serif">CD19</text></g>
<g><polygon points="449.5,407 449.5,406.62 449.5,353.5 450,353.5 450.5,387 451.75,378.5 453,370.38 453.75,368.25 454.75,370.38 455.88,374.12 457.38,378.5 459.25,383.75 460.75,387.88 462.38,392.5 464,397.88 465.75,403.25 468,406 470.5,406.62 470.5,407" fill="#000" stroke="#000" stroke-width="1.3" stroke-linejoin="round"/><polygon points="450,407 450,406.62 450.25,402.25 451.5,393.5 453,384.75 454.25,380.5 455.25,381.62 456.5,384.12 458,387 459.62,391 461.25,394.5 462.75,398.5 464.5,403.25 466.12,406.38 466.12,407" fill="#808080" stroke="#000" stroke-width="0.8" stroke-linejoin="round"/><path d="M448.75 341.5V407H512.75" fill="none" stroke="#000" stroke-width="1.6"/><path d="M447.75 341.5h-1.3 M447.75 357.88h-1.3 M447.75 374.25h-1.3 M447.75 390.62h-1.3 M447.75 407h-1.3 M464.5 408v1.2 M480.25 408v1.2 M496 408v1.2 M511.75 408v1.2" stroke="#000" stroke-width="0.7" fill="none"/><text transform="translate(445.75 342) rotate(-90)" font-size="6.3" font-weight="bold" text-anchor="middle" textLength="9.8" lengthAdjust="spacingAndGlyphs" font-family="Liberation Sans, sans-serif">128</text><text transform="translate(445.35 407) rotate(-90)" font-size="6.3" font-weight="bold" text-anchor="middle" font-family="Liberation Sans, sans-serif">0</text><text transform="translate(441.35 374.85) rotate(-90)" font-size="6.6" font-weight="bold" text-anchor="middle" textLength="18" lengthAdjust="spacingAndGlyphs" font-family="Liberation Sans, sans-serif">Events</text><text x="448.85" y="414.6" font-size="6.5" font-weight="bold" text-anchor="middle" font-family="Liberation Sans, sans-serif">10</text><text x="453.05" y="411.8" font-size="2.8" font-weight="bold" font-family="Liberation Sans, sans-serif">0</text><text x="464.67" y="414.6" font-size="6.5" font-weight="bold" text-anchor="middle" font-family="Liberation Sans, sans-serif">10</text><text x="468.87" y="411.8" font-size="2.8" font-weight="bold" font-family="Liberation Sans, sans-serif">1</text><text x="480.49" y="414.6" font-size="6.5" font-weight="bold" text-anchor="middle" font-family="Liberation Sans, sans-serif">10</text><text x="484.69" y="411.8" font-size="2.8" font-weight="bold" font-family="Liberation Sans, sans-serif">2</text><text x="496.31" y="414.6" font-size="6.5" font-weight="bold" text-anchor="middle" font-family="Liberation Sans, sans-serif">10</text><text x="500.51" y="411.8" font-size="2.8" font-weight="bold" font-family="Liberation Sans, sans-serif">3</text><text x="512.13" y="414.6" font-size="6.5" font-weight="bold" text-anchor="middle" font-family="Liberation Sans, sans-serif">10</text><text x="516.33" y="411.8" font-size="2.8" font-weight="bold" font-family="Liberation Sans, sans-serif">4</text><text x="479.85" y="421.6" font-size="5.6" font-weight="bold" text-anchor="middle" font-family="Liberation Sans, sans-serif">HLA-DR</text></g>
<g><polygon points="23.5,543 23.5,542.38 26.62,540.75 29.12,537 31,529.5 32.88,517 34.75,508.25 37.25,500.75 39.12,504.5 41.62,508.25 43.5,513.25 45.38,520.75 47.25,528.25 49.12,534.5 51,539.5 52.88,542.38 52.88,543" fill="#808080" stroke="#000" stroke-width="1.95" stroke-linejoin="round"/><polyline points="17.25,540.75 18.5,529.5 19.75,510.75 21,492 22.25,480.12 23.5,489.5 24.75,504.5 26,515.75 27.88,524.5 29.75,532 31.62,537 34.12,540.12 36.62,542 41,542.62" fill="none" stroke="#000" stroke-width="1.95" stroke-linejoin="round"/><path d="M16.75 478V543H80.75" fill="none" stroke="#2a2a2a" stroke-width="1.3"/><path d="M15.75 478h-1.3 M15.75 494.25h-1.3 M15.75 510.5h-1.3 M15.75 526.75h-1.3 M15.75 543h-1.3 M32.5 544v1.2 M48.25 544v1.2 M64 544v1.2 M79.75 544v1.2" stroke="#000" stroke-width="0.7" fill="none"/><text transform="translate(13.75 478.5) rotate(-90)" font-size="6.3" font-weight="bold" text-anchor="middle" textLength="9.8" lengthAdjust="spacingAndGlyphs" font-family="Liberation Sans, sans-serif">128</text><text transform="translate(13.35 543) rotate(-90)" font-size="6.3" font-weight="bold" text-anchor="middle" font-family="Liberation Sans, sans-serif">0</text><text transform="translate(9.35 511.1) rotate(-90)" font-size="6.6" font-weight="bold" text-anchor="middle" textLength="18" lengthAdjust="spacingAndGlyphs" font-family="Liberation Sans, sans-serif">Events</text><text x="16.85" y="550.6" font-size="6.5" font-weight="bold" text-anchor="middle" font-family="Liberation Sans, sans-serif">10</text><text x="21.05" y="547.8" font-size="2.8" font-weight="bold" font-family="Liberation Sans, sans-serif">0</text><text x="32.67" y="550.6" font-size="6.5" font-weight="bold" text-anchor="middle" font-family="Liberation Sans, sans-serif">10</text><text x="36.87" y="547.8" font-size="2.8" font-weight="bold" font-family="Liberation Sans, sans-serif">1</text><text x="48.49" y="550.6" font-size="6.5" font-weight="bold" text-anchor="middle" font-family="Liberation Sans, sans-serif">10</text><text x="52.69" y="547.8" font-size="2.8" font-weight="bold" font-family="Liberation Sans, sans-serif">2</text><text x="64.31" y="550.6" font-size="6.5" font-weight="bold" text-anchor="middle" font-family="Liberation Sans, sans-serif">10</text><text x="68.51" y="547.8" font-size="2.8" font-weight="bold" font-family="Liberation Sans, sans-serif">3</text><text x="80.13" y="550.6" font-size="6.5" font-weight="bold" text-anchor="middle" font-family="Liberation Sans, sans-serif">10</text><text x="84.33" y="547.8" font-size="2.8" font-weight="bold" font-family="Liberation Sans, sans-serif">4</text><text x="47.85" y="557.6" font-size="5.6" font-weight="bold" text-anchor="middle" font-family="Liberation Sans, sans-serif">CD105</text></g>
<g><polygon points="131.75,543 131.75,542.38 134.25,540.75 136.12,537 138,530.75 139.25,522 140.5,509.5 141.75,495.75 143.62,488.25 145.25,485.75 146.75,489.5 148,499.5 149.25,510.75 150.5,519.5 151.75,528.25 153,534.5 154.88,540.75 156.75,542.38 156.75,543" fill="#808080" stroke="#000" stroke-width="1.95" stroke-linejoin="round"/><polyline points="104.25,540.75 105.5,532 106.75,514.5 108,494.5 109.25,481.38 110.5,484.5 111.75,498.25 113,512 114.25,520.75 115.5,527 117.38,533.25 119.25,537.62 121.75,540.75 124.88,542 129.25,542.38 133,542" fill="none" stroke="#000" stroke-width="1.95" stroke-linejoin="round"/><path d="M103.62 478V543H167.62" fill="none" stroke="#2a2a2a" stroke-width="1.3"/><path d="M102.62 478h-1.3 M102.62 494.25h-1.3 M102.62 510.5h-1.3 M102.62 526.75h-1.3 M102.62 543h-1.3 M119.38 544v1.2 M135.12 544v1.2 M150.88 544v1.2 M166.62 544v1.2" stroke="#000" stroke-width="0.7" fill="none"/><text transform="translate(100.62 478.5) rotate(-90)" font-size="6.3" font-weight="bold" text-anchor="middle" textLength="9.8" lengthAdjust="spacingAndGlyphs" font-family="Liberation Sans, sans-serif">128</text><text transform="translate(100.22 543) rotate(-90)" font-size="6.3" font-weight="bold" text-anchor="middle" font-family="Liberation Sans, sans-serif">0</text><text transform="translate(96.22 511.1) rotate(-90)" font-size="6.6" font-weight="bold" text-anchor="middle" textLength="18" lengthAdjust="spacingAndGlyphs" font-family="Liberation Sans, sans-serif">Events</text><text x="103.72" y="550.6" font-size="6.5" font-weight="bold" text-anchor="middle" font-family="Liberation Sans, sans-serif">10</text><text x="107.92" y="547.8" font-size="2.8" font-weight="bold" font-family="Liberation Sans, sans-serif">0</text><text x="119.54" y="550.6" font-size="6.5" font-weight="bold" text-anchor="middle" font-family="Liberation Sans, sans-serif">10</text><text x="123.74" y="547.8" font-size="2.8" font-weight="bold" font-family="Liberation Sans, sans-serif">1</text><text x="135.36" y="550.6" font-size="6.5" font-weight="bold" text-anchor="middle" font-family="Liberation Sans, sans-serif">10</text><text x="139.56" y="547.8" font-size="2.8" font-weight="bold" font-family="Liberation Sans, sans-serif">2</text><text x="151.19" y="550.6" font-size="6.5" font-weight="bold" text-anchor="middle" font-family="Liberation Sans, sans-serif">10</text><text x="155.38" y="547.8" font-size="2.8" font-weight="bold" font-family="Liberation Sans, sans-serif">3</text><text x="167" y="550.6" font-size="6.5" font-weight="bold" text-anchor="middle" font-family="Liberation Sans, sans-serif">10</text><text x="171.2" y="547.8" font-size="2.8" font-weight="bold" font-family="Liberation Sans, sans-serif">4</text><text x="134.72" y="557.6" font-size="5.6" font-weight="bold" text-anchor="middle" font-family="Liberation Sans, sans-serif">CD73</text></g>
<g><polygon points="224,543 224,542.38 226.5,539.5 228.38,534.5 229.62,527 230.88,517 232.12,512 234,510.12 235.88,507 237.75,498.25 239.62,495.12 240.88,500.75 242.12,509.5 243.38,517 244.62,523.25 245.88,529.5 247.75,535.75 250.25,540.12 252.12,542 252.12,543" fill="#808080" stroke="#000" stroke-width="1.95" stroke-linejoin="round"/><polyline points="190.25,540.75 191.5,532 192.75,517 194,498.25 195.25,482 196.75,484.5 197.75,498.25 199,513.25 200.25,522 202.12,529.5 204,534.5 206.5,538.88 209.62,541.38 214,542.38 219,542 224,542.38" fill="none" stroke="#000" stroke-width="1.95" stroke-linejoin="round"/><path d="M189.62 478V543H253.62" fill="none" stroke="#2a2a2a" stroke-width="1.3"/><path d="M188.62 478h-1.3 M188.62 494.25h-1.3 M188.62 510.5h-1.3 M188.62 526.75h-1.3 M188.62 543h-1.3 M205.38 544v1.2 M221.12 544v1.2 M236.88 544v1.2 M252.62 544v1.2" stroke="#000" stroke-width="0.7" fill="none"/><text transform="translate(186.62 478.5) rotate(-90)" font-size="6.3" font-weight="bold" text-anchor="middle" textLength="9.8" lengthAdjust="spacingAndGlyphs" font-family="Liberation Sans, sans-serif">128</text><text transform="translate(186.22 543) rotate(-90)" font-size="6.3" font-weight="bold" text-anchor="middle" font-family="Liberation Sans, sans-serif">0</text><text transform="translate(182.22 511.1) rotate(-90)" font-size="6.6" font-weight="bold" text-anchor="middle" textLength="18" lengthAdjust="spacingAndGlyphs" font-family="Liberation Sans, sans-serif">Events</text><text x="189.72" y="550.6" font-size="6.5" font-weight="bold" text-anchor="middle" font-family="Liberation Sans, sans-serif">10</text><text x="193.92" y="547.8" font-size="2.8" font-weight="bold" font-family="Liberation Sans, sans-serif">0</text><text x="205.54" y="550.6" font-size="6.5" font-weight="bold" text-anchor="middle" font-family="Liberation Sans, sans-serif">10</text><text x="209.74" y="547.8" font-size="2.8" font-weight="bold" font-family="Liberation Sans, sans-serif">1</text><text x="221.36" y="550.6" font-size="6.5" font-weight="bold" text-anchor="middle" font-family="Liberation Sans, sans-serif">10</text><text x="225.56" y="547.8" font-size="2.8" font-weight="bold" font-family="Liberation Sans, sans-serif">2</text><text x="237.19" y="550.6" font-size="6.5" font-weight="bold" text-anchor="middle" font-family="Liberation Sans, sans-serif">10</text><text x="241.38" y="547.8" font-size="2.8" font-weight="bold" font-family="Liberation Sans, sans-serif">3</text><text x="253" y="550.6" font-size="6.5" font-weight="bold" text-anchor="middle" font-family="Liberation Sans, sans-serif">10</text><text x="257.2" y="547.8" font-size="2.8" font-weight="bold" font-family="Liberation Sans, sans-serif">4</text><text x="220.72" y="557.6" font-size="5.6" font-weight="bold" text-anchor="middle" font-family="Liberation Sans, sans-serif">CD29</text></g>
<g><polygon points="309.75,543 309.75,542.38 312.25,539.5 314.12,534.5 316,524.5 317.88,509.5 319.75,501.38 321.62,499.5 323.5,503.25 325.38,507 326.62,509.5 328.5,518.25 330.38,525.75 332.25,532 334.75,537 337.25,540.12 339.75,542 339.75,543" fill="#808080" stroke="#000" stroke-width="1.95" stroke-linejoin="round"/><polyline points="277.88,541.38 279.12,532 280.38,517 281.62,499.5 282.88,488.25 284.12,485.12 285.38,489.5 286.62,502 287.88,510.75 289.75,520.75 291.62,529.5 293.5,535.12 296,539.5 298.5,541.62 303.5,542.38 309.75,542" fill="none" stroke="#000" stroke-width="1.95" stroke-linejoin="round"/><path d="M276.75 478V543H340.75" fill="none" stroke="#2a2a2a" stroke-width="1.3"/><path d="M275.75 478h-1.3 M275.75 494.25h-1.3 M275.75 510.5h-1.3 M275.75 526.75h-1.3 M275.75 543h-1.3 M292.5 544v1.2 M308.25 544v1.2 M324 544v1.2 M339.75 544v1.2" stroke="#000" stroke-width="0.7" fill="none"/><text transform="translate(273.75 478.5) rotate(-90)" font-size="6.3" font-weight="bold" text-anchor="middle" textLength="9.8" lengthAdjust="spacingAndGlyphs" font-family="Liberation Sans, sans-serif">128</text><text transform="translate(273.35 543) rotate(-90)" font-size="6.3" font-weight="bold" text-anchor="middle" font-family="Liberation Sans, sans-serif">0</text><text transform="translate(269.35 511.1) rotate(-90)" font-size="6.6" font-weight="bold" text-anchor="middle" textLength="18" lengthAdjust="spacingAndGlyphs" font-family="Liberation Sans, sans-serif">Events</text><text x="276.85" y="550.6" font-size="6.5" font-weight="bold" text-anchor="middle" font-family="Liberation Sans, sans-serif">10</text><text x="281.05" y="547.8" font-size="2.8" font-weight="bold" font-family="Liberation Sans, sans-serif">0</text><text x="292.67" y="550.6" font-size="6.5" font-weight="bold" text-anchor="middle" font-family="Liberation Sans, sans-serif">10</text><text x="296.87" y="547.8" font-size="2.8" font-weight="bold" font-family="Liberation Sans, sans-serif">1</text><text x="308.49" y="550.6" font-size="6.5" font-weight="bold" text-anchor="middle" font-family="Liberation Sans, sans-serif">10</text><text x="312.69" y="547.8" font-size="2.8" font-weight="bold" font-family="Liberation Sans, sans-serif">2</text><text x="324.31" y="550.6" font-size="6.5" font-weight="bold" text-anchor="middle" font-family="Liberation Sans, sans-serif">10</text><text x="328.51" y="547.8" font-size="2.8" font-weight="bold" font-family="Liberation Sans, sans-serif">3</text><text x="340.13" y="550.6" font-size="6.5" font-weight="bold" text-anchor="middle" font-family="Liberation Sans, sans-serif">10</text><text x="344.33" y="547.8" font-size="2.8" font-weight="bold" font-family="Liberation Sans, sans-serif">4</text><text x="307.85" y="557.6" font-size="5.6" font-weight="bold" text-anchor="middle" font-family="Liberation Sans, sans-serif">CD44</text></g>
<g><polygon points="373.25,543 373.25,542.38 377,541.38 380.12,539.5 382,534.5 383.88,528.25 385.75,517 387.62,508.25 389.5,502 391.12,498.88 392.62,500.75 393.88,507 395.12,513.25 397,520.75 398.88,528.25 400.75,534.5 402.62,539.5 405.12,542.38 405.12,543" fill="#808080" stroke="#000" stroke-width="1.95" stroke-linejoin="round"/><polyline points="363.25,540.75 364.5,529.5 365.75,510.75 367,492 368.25,480.75 369.5,484.5 370.75,498.25 372,512 373.25,520.75 374.5,527 376.38,533.25 378.25,537 380.75,540.12 383.88,542 388.25,542.62" fill="none" stroke="#000" stroke-width="1.95" stroke-linejoin="round"/><path d="M362.62 478V543H426.62" fill="none" stroke="#2a2a2a" stroke-width="1.3"/><path d="M361.62 478h-1.3 M361.62 494.25h-1.3 M361.62 510.5h-1.3 M361.62 526.75h-1.3 M361.62 543h-1.3 M378.38 544v1.2 M394.12 544v1.2 M409.88 544v1.2 M425.62 544v1.2" stroke="#000" stroke-width="0.7" fill="none"/><text transform="translate(359.62 478.5) rotate(-90)" font-size="6.3" font-weight="bold" text-anchor="middle" textLength="9.8" lengthAdjust="spacingAndGlyphs" font-family="Liberation Sans, sans-serif">128</text><text transform="translate(359.23 543) rotate(-90)" font-size="6.3" font-weight="bold" text-anchor="middle" font-family="Liberation Sans, sans-serif">0</text><text transform="translate(355.23 511.1) rotate(-90)" font-size="6.6" font-weight="bold" text-anchor="middle" textLength="18" lengthAdjust="spacingAndGlyphs" font-family="Liberation Sans, sans-serif">Events</text><text x="362.73" y="550.6" font-size="6.5" font-weight="bold" text-anchor="middle" font-family="Liberation Sans, sans-serif">10</text><text x="366.93" y="547.8" font-size="2.8" font-weight="bold" font-family="Liberation Sans, sans-serif">0</text><text x="378.55" y="550.6" font-size="6.5" font-weight="bold" text-anchor="middle" font-family="Liberation Sans, sans-serif">10</text><text x="382.75" y="547.8" font-size="2.8" font-weight="bold" font-family="Liberation Sans, sans-serif">1</text><text x="394.37" y="550.6" font-size="6.5" font-weight="bold" text-anchor="middle" font-family="Liberation Sans, sans-serif">10</text><text x="398.56" y="547.8" font-size="2.8" font-weight="bold" font-family="Liberation Sans, sans-serif">2</text><text x="410.19" y="550.6" font-size="6.5" font-weight="bold" text-anchor="middle" font-family="Liberation Sans, sans-serif">10</text><text x="414.38" y="547.8" font-size="2.8" font-weight="bold" font-family="Liberation Sans, sans-serif">3</text><text x="426" y="550.6" font-size="6.5" font-weight="bold" text-anchor="middle" font-family="Liberation Sans, sans-serif">10</text><text x="430.2" y="547.8" font-size="2.8" font-weight="bold" font-family="Liberation Sans, sans-serif">4</text><text x="393.73" y="557.6" font-size="5.6" font-weight="bold" text-anchor="middle" font-family="Liberation Sans, sans-serif">CD166</text></g>
<g><polygon points="471.5,543 471.5,542.38 473.38,538.25 474.62,532 475.88,522 477.12,512 478.38,501.38 480.25,494.5 481.5,492.62 482.75,495.75 484,500.75 485.25,508.25 486.5,515.75 487.75,523.25 489,530.75 490.25,537 492.12,541.38 494,542.38 494,543" fill="#808080" stroke="#000" stroke-width="1.95" stroke-linejoin="round"/><polyline points="450,541.38 451.5,533.25 452.75,519.5 454,500.75 455.25,487 456.25,485.12 457.5,493.25 458.75,505.75 460.25,515.75 462.12,524.5 464,530.75 465.88,535.75 467.75,539.5 469.62,542" fill="none" stroke="#000" stroke-width="1.95" stroke-linejoin="round"/><path d="M449.25 478V543H513.25" fill="none" stroke="#2a2a2a" stroke-width="1.3"/><path d="M448.25 478h-1.3 M448.25 494.25h-1.3 M448.25 510.5h-1.3 M448.25 526.75h-1.3 M448.25 543h-1.3 M465 544v1.2 M480.75 544v1.2 M496.5 544v1.2 M512.25 544v1.2" stroke="#000" stroke-width="0.7" fill="none"/><text transform="translate(446.25 478.5) rotate(-90)" font-size="6.3" font-weight="bold" text-anchor="middle" textLength="9.8" lengthAdjust="spacingAndGlyphs" font-family="Liberation Sans, sans-serif">128</text><text transform="translate(445.85 543) rotate(-90)" font-size="6.3" font-weight="bold" text-anchor="middle" font-family="Liberation Sans, sans-serif">0</text><text transform="translate(441.85 511.1) rotate(-90)" font-size="6.6" font-weight="bold" text-anchor="middle" textLength="18" lengthAdjust="spacingAndGlyphs" font-family="Liberation Sans, sans-serif">Events</text><text x="449.35" y="550.6" font-size="6.5" font-weight="bold" text-anchor="middle" font-family="Liberation Sans, sans-serif">10</text><text x="453.55" y="547.8" font-size="2.8" font-weight="bold" font-family="Liberation Sans, sans-serif">0</text><text x="465.17" y="550.6" font-size="6.5" font-weight="bold" text-anchor="middle" font-family="Liberation Sans, sans-serif">10</text><text x="469.37" y="547.8" font-size="2.8" font-weight="bold" font-family="Liberation Sans, sans-serif">1</text><text x="480.99" y="550.6" font-size="6.5" font-weight="bold" text-anchor="middle" font-family="Liberation Sans, sans-serif">10</text><text x="485.19" y="547.8" font-size="2.8" font-weight="bold" font-family="Liberation Sans, sans-serif">2</text><text x="496.81" y="550.6" font-size="6.5" font-weight="bold" text-anchor="middle" font-family="Liberation Sans, sans-serif">10</text><text x="501.01" y="547.8" font-size="2.8" font-weight="bold" font-family="Liberation Sans, sans-serif">3</text><text x="512.63" y="550.6" font-size="6.5" font-weight="bold" text-anchor="middle" font-family="Liberation Sans, sans-serif">10</text><text x="516.83" y="547.8" font-size="2.8" font-weight="bold" font-family="Liberation Sans, sans-serif">4</text><text x="480.35" y="557.6" font-size="5.6" font-weight="bold" text-anchor="middle" font-family="Liberation Sans, sans-serif">HLA-ABC</text></g>
<g><polygon points="17.5,632 17.5,628.5 18.75,612.25 20,593.5 21.25,578.5 22.5,571 23.75,568.5 25,574.75 26,584.75 27,594.75 28,603.5 29.12,611 30.75,618.5 32.5,624.12 34.75,628.5 37.88,631 42.25,631.62 42.25,632" fill="#000" stroke="#000" stroke-width="1.9" stroke-linejoin="round"/><polygon points="18.5,632 18.5,631 19.75,616 21,599.75 22.25,584.75 23.25,580.38 24.25,583.5 25.25,592.25 26.25,601 27.25,608.5 28.5,614.75 30,621 32,626.62 34.12,630.38 36,631.38 36,632" fill="#808080" stroke="#000" stroke-width="0.8" stroke-linejoin="round"/><path d="M16.75 567.5V632H80.75" fill="none" stroke="#2a2a2a" stroke-width="1.3"/><path d="M15.75 567.5h-1.3 M15.75 583.62h-1.3 M15.75 599.75h-1.3 M15.75 615.88h-1.3 M15.75 632h-1.3 M32.5 633v1.2 M48.25 633v1.2 M64 633v1.2 M79.75 633v1.2" stroke="#000" stroke-width="0.7" fill="none"/><text transform="translate(13.75 568) rotate(-90)" font-size="6.3" font-weight="bold" text-anchor="middle" textLength="9.8" lengthAdjust="spacingAndGlyphs" font-family="Liberation Sans, sans-serif">128</text><text transform="translate(13.35 632) rotate(-90)" font-size="6.3" font-weight="bold" text-anchor="middle" font-family="Liberation Sans, sans-serif">0</text><text transform="translate(9.35 600.35) rotate(-90)" font-size="6.6" font-weight="bold" text-anchor="middle" textLength="18" lengthAdjust="spacingAndGlyphs" font-family="Liberation Sans, sans-serif">Events</text><text x="16.85" y="639.6" font-size="6.5" font-weight="bold" text-anchor="middle" font-family="Liberation Sans, sans-serif">10</text><text x="21.05" y="636.8" font-size="2.8" font-weight="bold" font-family="Liberation Sans, sans-serif">0</text><text x="32.67" y="639.6" font-size="6.5" font-weight="bold" text-anchor="middle" font-family="Liberation Sans, sans-serif">10</text><text x="36.87" y="636.8" font-size="2.8" font-weight="bold" font-family="Liberation Sans, sans-serif">1</text><text x="48.49" y="639.6" font-size="6.5" font-weight="bold" text-anchor="middle" font-family="Liberation Sans, sans-serif">10</text><text x="52.69" y="636.8" font-size="2.8" font-weight="bold" font-family="Liberation Sans, sans-serif">2</text><text x="64.31" y="639.6" font-size="6.5" font-weight="bold" text-anchor="middle" font-family="Liberation Sans, sans-serif">10</text><text x="68.51" y="636.8" font-size="2.8" font-weight="bold" font-family="Liberation Sans, sans-serif">3</text><text x="80.13" y="639.6" font-size="6.5" font-weight="bold" text-anchor="middle" font-family="Liberation Sans, sans-serif">10</text><text x="84.33" y="636.8" font-size="2.8" font-weight="bold" font-family="Liberation Sans, sans-serif">4</text><text x="47.85" y="646.6" font-size="5.6" font-weight="bold" text-anchor="middle" font-family="Liberation Sans, sans-serif">CD45</text></g>
<g><polygon points="104.5,632 104.5,631 104.75,606 105.75,593.5 107,578.5 108.88,570.38 110.12,569.75 111.75,574.75 113.25,587.25 114.5,597.25 115.75,606 117.25,614.75 119.25,622.25 121.75,627.25 125.12,630.38 129.5,631.62 129.5,632" fill="#000" stroke="#000" stroke-width="1.9" stroke-linejoin="round"/><polygon points="105.75,632 105.75,631 107,612.25 108.25,593.5 109.25,582.25 110.25,581 111.5,587.25 112.5,597.25 113.5,606 114.75,613.5 116.38,619.75 118.25,626 120.5,630.38 122.62,631.38 122.62,632" fill="#808080" stroke="#000" stroke-width="0.8" stroke-linejoin="round"/><path d="M103.75 567.5V632H167.75" fill="none" stroke="#2a2a2a" stroke-width="1.3"/><path d="M102.75 567.5h-1.3 M102.75 583.62h-1.3 M102.75 599.75h-1.3 M102.75 615.88h-1.3 M102.75 632h-1.3 M119.5 633v1.2 M135.25 633v1.2 M151 633v1.2 M166.75 633v1.2" stroke="#000" stroke-width="0.7" fill="none"/><text transform="translate(100.75 568) rotate(-90)" font-size="6.3" font-weight="bold" text-anchor="middle" textLength="9.8" lengthAdjust="spacingAndGlyphs" font-family="Liberation Sans, sans-serif">128</text><text transform="translate(100.35 632) rotate(-90)" font-size="6.3" font-weight="bold" text-anchor="middle" font-family="Liberation Sans, sans-serif">0</text><text transform="translate(96.35 600.35) rotate(-90)" font-size="6.6" font-weight="bold" text-anchor="middle" textLength="18" lengthAdjust="spacingAndGlyphs" font-family="Liberation Sans, sans-serif">Events</text><text x="103.85" y="639.6" font-size="6.5" font-weight="bold" text-anchor="middle" font-family="Liberation Sans, sans-serif">10</text><text x="108.05" y="636.8" font-size="2.8" font-weight="bold" font-family="Liberation Sans, sans-serif">0</text><text x="119.67" y="639.6" font-size="6.5" font-weight="bold" text-anchor="middle" font-family="Liberation Sans, sans-serif">10</text><text x="123.87" y="636.8" font-size="2.8" font-weight="bold" font-family="Liberation Sans, sans-serif">1</text><text x="135.49" y="639.6" font-size="6.5" font-weight="bold" text-anchor="middle" font-family="Liberation Sans, sans-serif">10</text><text x="139.69" y="636.8" font-size="2.8" font-weight="bold" font-family="Liberation Sans, sans-serif">2</text><text x="151.31" y="639.6" font-size="6.5" font-weight="bold" text-anchor="middle" font-family="Liberation Sans, sans-serif">10</text><text x="155.51" y="636.8" font-size="2.8" font-weight="bold" font-family="Liberation Sans, sans-serif">3</text><text x="167.13" y="639.6" font-size="6.5" font-weight="bold" text-anchor="middle" font-family="Liberation Sans, sans-serif">10</text><text x="171.33" y="636.8" font-size="2.8" font-weight="bold" font-family="Liberation Sans, sans-serif">4</text><text x="134.85" y="646.6" font-size="5.6" font-weight="bold" text-anchor="middle" font-family="Liberation Sans, sans-serif">CD14</text></g>
<g><polygon points="191.5,632 191.5,631 192.75,616 194,598.5 195.25,583.5 196.5,573.5 197.75,569.75 199,573.5 200.25,583.5 201.5,593.5 202.75,602.25 204,609.75 205.88,617.25 207.75,623.5 210.25,628.5 213.38,631 216.5,631.62 216.5,632" fill="#000" stroke="#000" stroke-width="1.9" stroke-linejoin="round"/><polygon points="192.12,632 192.12,631 193.38,618.5 194.62,603.5 195.88,589.75 197.12,582.25 198,581 198.75,586 199.62,593.5 200.5,601 201.75,608.5 203.38,616 205.25,622.25 207.5,627.88 210,631 212.12,631.38 212.12,632" fill="#808080" stroke="#000" stroke-width="0.8" stroke-linejoin="round"/><path d="M189.75 567.5V632H253.75" fill="none" stroke="#2a2a2a" stroke-width="1.3"/><path d="M188.75 567.5h-1.3 M188.75 583.62h-1.3 M188.75 599.75h-1.3 M188.75 615.88h-1.3 M188.75 632h-1.3 M205.5 633v1.2 M221.25 633v1.2 M237 633v1.2 M252.75 633v1.2" stroke="#000" stroke-width="0.7" fill="none"/><text transform="translate(186.75 568) rotate(-90)" font-size="6.3" font-weight="bold" text-anchor="middle" textLength="9.8" lengthAdjust="spacingAndGlyphs" font-family="Liberation Sans, sans-serif">128</text><text transform="translate(186.35 632) rotate(-90)" font-size="6.3" font-weight="bold" text-anchor="middle" font-family="Liberation Sans, sans-serif">0</text><text transform="translate(182.35 600.35) rotate(-90)" font-size="6.6" font-weight="bold" text-anchor="middle" textLength="18" lengthAdjust="spacingAndGlyphs" font-family="Liberation Sans, sans-serif">Events</text><text x="189.85" y="639.6" font-size="6.5" font-weight="bold" text-anchor="middle" font-family="Liberation Sans, sans-serif">10</text><text x="194.05" y="636.8" font-size="2.8" font-weight="bold" font-family="Liberation Sans, sans-serif">0</text><text x="205.67" y="639.6" font-size="6.5" font-weight="bold" text-anchor="middle" font-family="Liberation Sans, sans-serif">10</text><text x="209.87" y="636.8" font-size="2.8" font-weight="bold" font-family="Liberation Sans, sans-serif">1</text><text x="221.49" y="639.6" font-size="6.5" font-weight="bold" text-anchor="middle" font-family="Liberation Sans, sans-serif">10</text><text x="225.69" y="636.8" font-size="2.8" font-weight="bold" font-family="Liberation Sans, sans-serif">2</text><text x="237.31" y="639.6" font-size="6.5" font-weight="bold" text-anchor="middle" font-family="Liberation Sans, sans-serif">10</text><text x="241.51" y="636.8" font-size="2.8" font-weight="bold" font-family="Liberation Sans, sans-serif">3</text><text x="253.13" y="639.6" font-size="6.5" font-weight="bold" text-anchor="middle" font-family="Liberation Sans, sans-serif">10</text><text x="257.33" y="636.8" font-size="2.8" font-weight="bold" font-family="Liberation Sans, sans-serif">4</text><text x="220.85" y="646.6" font-size="5.6" font-weight="bold" text-anchor="middle" font-family="Liberation Sans, sans-serif">CD34</text></g>
<g><polygon points="278,632 278,624.75 279.25,606 280.38,588.5 281.38,573.5 282.5,568.5 283.5,572.25 284.75,582.25 286,593.5 287.25,603.5 288.5,612.25 290.38,619.75 292.25,624.75 294.75,629.12 297.88,631 302.25,631.62 302.25,632" fill="#000" stroke="#000" stroke-width="1.9" stroke-linejoin="round"/><polygon points="278.25,632 278.25,631 279.5,618.5 280.5,601 281.25,588.5 281.88,579.75 282.5,575.38 283.12,578.5 283.88,586 284.75,594.75 286,604.12 287.88,612.88 289.75,619.75 291.62,624.75 293.5,628.5 296,631 296,632" fill="#808080" stroke="#000" stroke-width="0.8" stroke-linejoin="round"/><path d="M276.5 567.5V632H340.5" fill="none" stroke="#2a2a2a" stroke-width="1.3"/><path d="M275.5 567.5h-1.3 M275.5 583.62h-1.3 M275.5 599.75h-1.3 M275.5 615.88h-1.3 M275.5 632h-1.3 M292.25 633v1.2 M308 633v1.2 M323.75 633v1.2 M339.5 633v1.2" stroke="#000" stroke-width="0.7" fill="none"/><text transform="translate(273.5 568) rotate(-90)" font-size="6.3" font-weight="bold" text-anchor="middle" textLength="9.8" lengthAdjust="spacingAndGlyphs" font-family="Liberation Sans, sans-serif">128</text><text transform="translate(273.1 632) rotate(-90)" font-size="6.3" font-weight="bold" text-anchor="middle" font-family="Liberation Sans, sans-serif">0</text><text transform="translate(269.1 600.35) rotate(-90)" font-size="6.6" font-weight="bold" text-anchor="middle" textLength="18" lengthAdjust="spacingAndGlyphs" font-family="Liberation Sans, sans-serif">Events</text><text x="276.6" y="639.6" font-size="6.5" font-weight="bold" text-anchor="middle" font-family="Liberation Sans, sans-serif">10</text><text x="280.8" y="636.8" font-size="2.8" font-weight="bold" font-family="Liberation Sans, sans-serif">0</text><text x="292.42" y="639.6" font-size="6.5" font-weight="bold" text-anchor="middle" font-family="Liberation Sans, sans-serif">10</text><text x="296.62" y="636.8" font-size="2.8" font-weight="bold" font-family="Liberation Sans, sans-serif">1</text><text x="308.24" y="639.6" font-size="6.5" font-weight="bold" text-anchor="middle" font-family="Liberation Sans, sans-serif">10</text><text x="312.44" y="636.8" font-size="2.8" font-weight="bold" font-family="Liberation Sans, sans-serif">2</text><text x="324.06" y="639.6" font-size="6.5" font-weight="bold" text-anchor="middle" font-family="Liberation Sans, sans-serif">10</text><text x="328.26" y="636.8" font-size="2.8" font-weight="bold" font-family="Liberation Sans, sans-serif">3</text><text x="339.88" y="639.6" font-size="6.5" font-weight="bold" text-anchor="middle" font-family="Liberation Sans, sans-serif">10</text><text x="344.08" y="636.8" font-size="2.8" font-weight="bold" font-family="Liberation Sans, sans-serif">4</text><text x="307.6" y="646.6" font-size="5.6" font-weight="bold" text-anchor="middle" font-family="Liberation Sans, sans-serif">CD31</text></g>
<g><polygon points="363.88,632 363.88,628.5 364.75,606 365.75,587.25 367,573.5 368,568.5 369,573.5 370,583.5 371,593.5 372,602.25 373.25,609.75 374.75,617.25 376.5,622.88 378.88,627.5 382,630.38 387,631.62 387,632" fill="#000" stroke="#000" stroke-width="1.9" stroke-linejoin="round"/><polygon points="363.88,632 363.88,631 364.75,618.5 365.75,599.75 367,586 368,581 368.75,586 369.5,593.5 370.5,601 371.75,608.5 373.5,616 375.5,622.25 377.62,627.25 380.12,630.38 382,631.38 382,632" fill="#808080" stroke="#000" stroke-width="0.8" stroke-linejoin="round"/><path d="M362.62 567.5V632H426.62" fill="none" stroke="#2a2a2a" stroke-width="1.3"/><path d="M361.62 567.5h-1.3 M361.62 583.62h-1.3 M361.62 599.75h-1.3 M361.62 615.88h-1.3 M361.62 632h-1.3 M378.38 633v1.2 M394.12 633v1.2 M409.88 633v1.2 M425.62 633v1.2" stroke="#000" stroke-width="0.7" fill="none"/><text transform="translate(359.62 568) rotate(-90)" font-size="6.3" font-weight="bold" text-anchor="middle" textLength="9.8" lengthAdjust="spacingAndGlyphs" font-family="Liberation Sans, sans-serif">128</text><text transform="translate(359.23 632) rotate(-90)" font-size="6.3" font-weight="bold" text-anchor="middle" font-family="Liberation Sans, sans-serif">0</text><text transform="translate(355.23 600.35) rotate(-90)" font-size="6.6" font-weight="bold" text-anchor="middle" textLength="18" lengthAdjust="spacingAndGlyphs" font-family="Liberation Sans, sans-serif">Events</text><text x="362.73" y="639.6" font-size="6.5" font-weight="bold" text-anchor="middle" font-family="Liberation Sans, sans-serif">10</text><text x="366.93" y="636.8" font-size="2.8" font-weight="bold" font-family="Liberation Sans, sans-serif">0</text><text x="378.55" y="639.6" font-size="6.5" font-weight="bold" text-anchor="middle" font-family="Liberation Sans, sans-serif">10</text><text x="382.75" y="636.8" font-size="2.8" font-weight="bold" font-family="Liberation Sans, sans-serif">1</text><text x="394.37" y="639.6" font-size="6.5" font-weight="bold" text-anchor="middle" font-family="Liberation Sans, sans-serif">10</text><text x="398.56" y="636.8" font-size="2.8" font-weight="bold" font-family="Liberation Sans, sans-serif">2</text><text x="410.19" y="639.6" font-size="6.5" font-weight="bold" text-anchor="middle" font-family="Liberation Sans, sans-serif">10</text><text x="414.38" y="636.8" font-size="2.8" font-weight="bold" font-family="Liberation Sans, sans-serif">3</text><text x="426" y="639.6" font-size="6.5" font-weight="bold" text-anchor="middle" font-family="Liberation Sans, sans-serif">10</text><text x="430.2" y="636.8" font-size="2.8" font-weight="bold" font-family="Liberation Sans, sans-serif">4</text><text x="393.73" y="646.6" font-size="5.6" font-weight="bold" text-anchor="middle" font-family="Liberation Sans, sans-serif">CD19</text></g>
<g><polygon points="450.5,632 450.5,624.75 451.5,606 452.5,587.25 453.38,572.25 454.25,569.12 455.5,573.5 456.75,582.25 458,592.25 459.25,601 460.88,609.75 462.75,617.25 464.62,623.5 467.12,628.5 470.25,631 474,631.62 474,632" fill="#000" stroke="#000" stroke-width="1.9" stroke-linejoin="round"/><polygon points="450.5,632 450.5,631 451.5,621 452.5,609.75 453.25,602.25 453.75,593.5 454.25,584.75 454.75,582.25 455.5,584.75 456.25,593.5 457,601 457.75,607.25 459,614.75 460.5,621 462.5,626 465,629.75 467.75,631.38 467.75,632" fill="#808080" stroke="#000" stroke-width="0.8" stroke-linejoin="round"/><path d="M449.25 567.5V632H513.25" fill="none" stroke="#2a2a2a" stroke-width="1.3"/><path d="M448.25 567.5h-1.3 M448.25 583.62h-1.3 M448.25 599.75h-1.3 M448.25 615.88h-1.3 M448.25 632h-1.3 M465 633v1.2 M480.75 633v1.2 M496.5 633v1.2 M512.25 633v1.2" stroke="#000" stroke-width="0.7" fill="none"/><text transform="translate(446.25 568) rotate(-90)" font-size="6.3" font-weight="bold" text-anchor="middle" textLength="9.8" lengthAdjust="spacingAndGlyphs" font-family="Liberation Sans, sans-serif">128</text><text transform="translate(445.85 632) rotate(-90)" font-size="6.3" font-weight="bold" text-anchor="middle" font-family="Liberation Sans, sans-serif">0</text><text transform="translate(441.85 600.35) rotate(-90)" font-size="6.6" font-weight="bold" text-anchor="middle" textLength="18" lengthAdjust="spacingAndGlyphs" font-family="Liberation Sans, sans-serif">Events</text><text x="449.35" y="639.6" font-size="6.5" font-weight="bold" text-anchor="middle" font-family="Liberation Sans, sans-serif">10</text><text x="453.55" y="636.8" font-size="2.8" font-weight="bold" font-family="Liberation Sans, sans-serif">0</text><text x="465.17" y="639.6" font-size="6.5" font-weight="bold" text-anchor="middle" font-family="Liberation Sans, sans-serif">10</text><text x="469.37" y="636.8" font-size="2.8" font-weight="bold" font-family="Liberation Sans, sans-serif">1</text><text x="480.99" y="639.6" font-size="6.5" font-weight="bold" text-anchor="middle" font-family="Liberation Sans, sans-serif">10</text><text x="485.19" y="636.8" font-size="2.8" font-weight="bold" font-family="Liberation Sans, sans-serif">2</text><text x="496.81" y="639.6" font-size="6.5" font-weight="bold" text-anchor="middle" font-family="Liberation Sans, sans-serif">10</text><text x="501.01" y="636.8" font-size="2.8" font-weight="bold" font-family="Liberation Sans, sans-serif">3</text><text x="512.63" y="639.6" font-size="6.5" font-weight="bold" text-anchor="middle" font-family="Liberation Sans, sans-serif">10</text><text x="516.83" y="636.8" font-size="2.8" font-weight="bold" font-family="Liberation Sans, sans-serif">4</text><text x="480.35" y="646.6" font-size="5.6" font-weight="bold" text-anchor="middle" font-family="Liberation Sans, sans-serif">HLA-DR</text></g>
</g></svg>
</body></html>
